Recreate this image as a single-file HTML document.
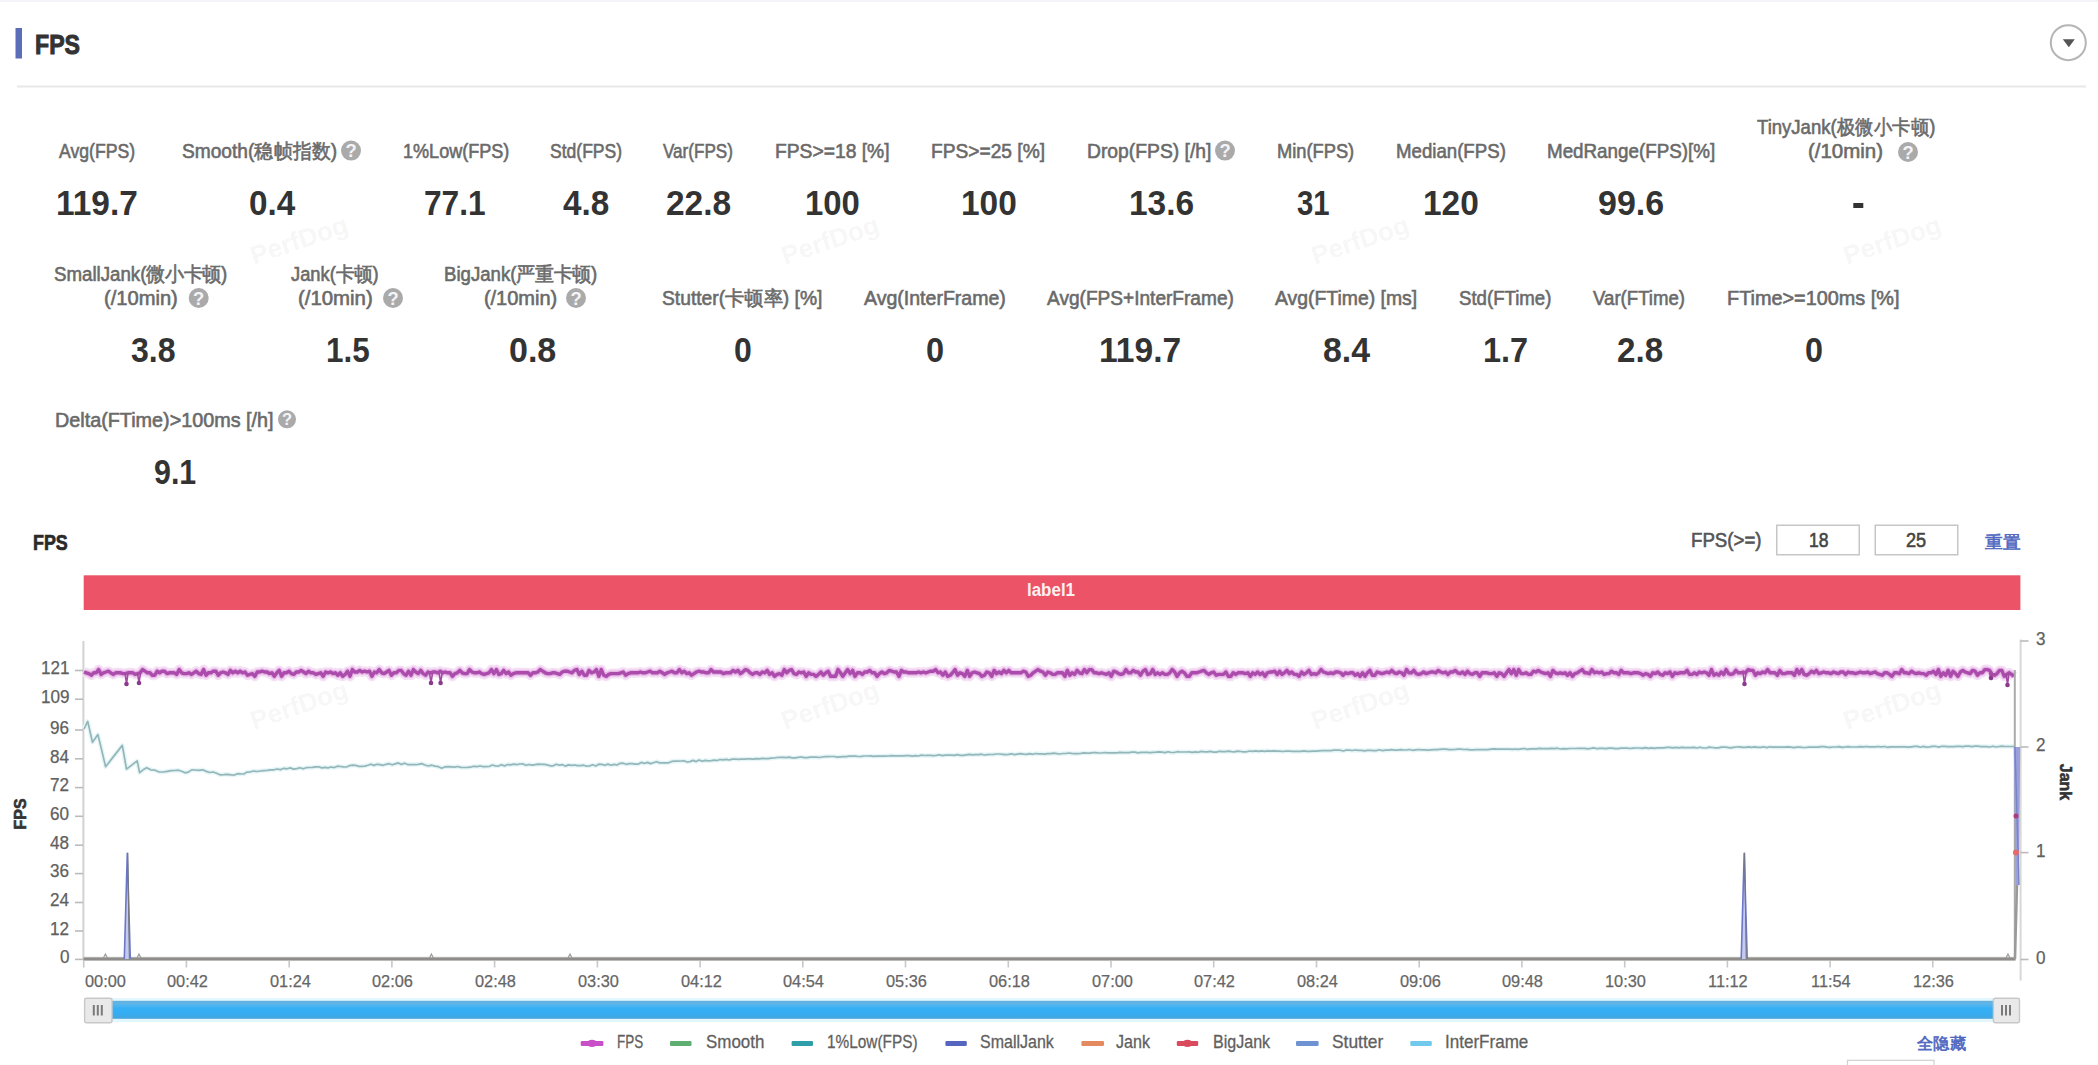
<!DOCTYPE html>
<html><head><meta charset="utf-8"><title>FPS</title>
<style>
html,body{margin:0;padding:0;background:#fff;}
body{width:2098px;height:1065px;overflow:hidden;position:relative;font-family:"Liberation Sans",sans-serif;}
svg{position:absolute;left:0;top:0;}
#root{position:absolute;left:0;top:0;width:2098px;height:1065px;overflow:hidden;}
.t{position:absolute;white-space:nowrap;line-height:1;transform-origin:0 0;-webkit-text-stroke:0.6px currentColor;}
.b{font-weight:bold;-webkit-text-stroke:0;}
.t i{display:inline-block;width:1em;font-style:normal;text-align:center;}
.wm{position:absolute;width:120px;height:28px;font-size:26px;font-weight:bold;color:rgba(0,0,0,0.055);transform:rotate(-19deg);line-height:28px;text-align:center;}
</style></head><body>
<div id="root">
<svg width="2098" height="1065" viewBox="0 0 2098 1065">
<rect x="0" y="0" width="2098" height="2" fill="#f4f4f8"/>
<rect x="15.5" y="28" width="6.5" height="30.5" fill="#5b6cb8"/>
<rect x="17" y="85.5" width="2069" height="2" fill="#e8e8e8"/>
<circle cx="2068.3" cy="42.7" r="17.5" fill="none" stroke="#b5b5b5" stroke-width="2"/>
<path d="M2062.8 39.3 L2074.8 39.3 L2068.8 47.3 Z" fill="#555"/>
<circle cx="351.0" cy="150.6" r="10.0" fill="#aaaaaa"/>
<text x="351.0" y="157.1" font-size="18.4" font-weight="bold" fill="#f4f4f8" text-anchor="middle" font-family="Liberation Sans, sans-serif">?</text>
<circle cx="1225.0" cy="150.6" r="10.0" fill="#aaaaaa"/>
<text x="1225.0" y="157.1" font-size="18.4" font-weight="bold" fill="#f4f4f8" text-anchor="middle" font-family="Liberation Sans, sans-serif">?</text>
<circle cx="1908.0" cy="152.0" r="10.0" fill="#aaaaaa"/>
<text x="1908.0" y="158.5" font-size="18.4" font-weight="bold" fill="#f4f4f8" text-anchor="middle" font-family="Liberation Sans, sans-serif">?</text>
<rect x="1853.3" y="203" width="10" height="5" fill="#333"/>
<circle cx="198.7" cy="298.0" r="10.0" fill="#aaaaaa"/>
<text x="198.7" y="304.5" font-size="18.4" font-weight="bold" fill="#f4f4f8" text-anchor="middle" font-family="Liberation Sans, sans-serif">?</text>
<circle cx="393.0" cy="298.0" r="10.0" fill="#aaaaaa"/>
<text x="393.0" y="304.5" font-size="18.4" font-weight="bold" fill="#f4f4f8" text-anchor="middle" font-family="Liberation Sans, sans-serif">?</text>
<circle cx="576.0" cy="298.0" r="10.0" fill="#aaaaaa"/>
<text x="576.0" y="304.5" font-size="18.4" font-weight="bold" fill="#f4f4f8" text-anchor="middle" font-family="Liberation Sans, sans-serif">?</text>
<circle cx="287.0" cy="419.3" r="9.0" fill="#aaaaaa"/>
<text x="287.0" y="425.2" font-size="16.6" font-weight="bold" fill="#f4f4f8" text-anchor="middle" font-family="Liberation Sans, sans-serif">?</text>
<rect x="1776.75" y="525.25" width="82.5" height="29.5" fill="#fff" stroke="#c6c6c6" stroke-width="1.5"/>
<rect x="1875.25" y="525.25" width="82.5" height="29.5" fill="#fff" stroke="#c6c6c6" stroke-width="1.5"/>
<rect x="83.7" y="575.3" width="1936.7" height="34.7" fill="#ec5366"/>
<rect x="82.4" y="641" width="2" height="319" fill="#d2d2d2"/>
<rect x="2019.6" y="639.5" width="2" height="341" fill="#d8d8d8"/>
<rect x="75" y="669.7" width="8" height="1.6" fill="#bbb"/>
<rect x="75" y="698.4" width="8" height="1.6" fill="#bbb"/>
<rect x="75" y="729.2" width="8" height="1.6" fill="#bbb"/>
<rect x="75" y="758.0" width="8" height="1.6" fill="#bbb"/>
<rect x="75" y="786.8" width="8" height="1.6" fill="#bbb"/>
<rect x="75" y="815.5" width="8" height="1.6" fill="#bbb"/>
<rect x="75" y="844.4" width="8" height="1.6" fill="#bbb"/>
<rect x="75" y="872.8" width="8" height="1.6" fill="#bbb"/>
<rect x="75" y="901.7" width="8" height="1.6" fill="#bbb"/>
<rect x="75" y="930.2" width="8" height="1.6" fill="#bbb"/>
<rect x="75" y="958.6" width="8" height="1.6" fill="#bbb"/>
<rect x="2020.5" y="640.2" width="8" height="1.6" fill="#bbb"/>
<rect x="2020.5" y="746.2" width="8" height="1.6" fill="#bbb"/>
<rect x="2020.5" y="851.8" width="8" height="1.6" fill="#bbb"/>
<rect x="2020.5" y="958.7" width="8" height="1.6" fill="#bbb"/>
<rect x="82.9" y="960" width="1.6" height="7.5" fill="#c8c8c8"/>
<rect x="185.6" y="960" width="1.6" height="7.5" fill="#c8c8c8"/>
<rect x="288.4" y="960" width="1.6" height="7.5" fill="#c8c8c8"/>
<rect x="391.1" y="960" width="1.6" height="7.5" fill="#c8c8c8"/>
<rect x="493.8" y="960" width="1.6" height="7.5" fill="#c8c8c8"/>
<rect x="596.6" y="960" width="1.6" height="7.5" fill="#c8c8c8"/>
<rect x="699.3" y="960" width="1.6" height="7.5" fill="#c8c8c8"/>
<rect x="802.0" y="960" width="1.6" height="7.5" fill="#c8c8c8"/>
<rect x="904.7" y="960" width="1.6" height="7.5" fill="#c8c8c8"/>
<rect x="1007.5" y="960" width="1.6" height="7.5" fill="#c8c8c8"/>
<rect x="1110.2" y="960" width="1.6" height="7.5" fill="#c8c8c8"/>
<rect x="1212.9" y="960" width="1.6" height="7.5" fill="#c8c8c8"/>
<rect x="1315.7" y="960" width="1.6" height="7.5" fill="#c8c8c8"/>
<rect x="1418.4" y="960" width="1.6" height="7.5" fill="#c8c8c8"/>
<rect x="1521.1" y="960" width="1.6" height="7.5" fill="#c8c8c8"/>
<rect x="1623.9" y="960" width="1.6" height="7.5" fill="#c8c8c8"/>
<rect x="1726.6" y="960" width="1.6" height="7.5" fill="#c8c8c8"/>
<rect x="1829.3" y="960" width="1.6" height="7.5" fill="#c8c8c8"/>
<rect x="1932.0" y="960" width="1.6" height="7.5" fill="#c8c8c8"/>
<path d="M84.0 672.0 L86.4 672.8 L88.9 673.6 L91.3 675.2 L93.8 672.8 L96.2 672.8 L98.6 669.6 L101.1 674.4 L103.5 672.8 L106.0 672.0 L108.4 671.2 L110.8 672.8 L113.3 674.4 L115.7 672.8 L118.2 672.8 L120.6 672.8 L123.0 673.6 L125.5 673.6 L127.9 672.8 L130.4 672.8 L132.8 672.8 L135.2 674.4 L137.7 673.6 L140.1 672.8 L142.6 669.6 L145.0 671.2 L147.4 672.8 L149.9 672.8 L152.3 675.2 L154.8 675.2 L157.2 671.2 L159.6 672.8 L162.1 671.2 L164.5 671.2 L167.0 673.6 L169.4 672.8 L171.8 672.8 L174.3 672.8 L176.7 674.4 L179.2 669.6 L181.6 672.8 L184.0 673.6 L186.5 673.6 L188.9 672.8 L191.4 674.4 L193.8 672.8 L196.2 671.2 L198.7 673.6 L201.1 674.4 L203.6 669.6 L206.0 675.2 L208.4 672.8 L210.9 672.8 L213.3 671.2 L215.8 671.2 L218.2 675.2 L220.6 672.8 L223.1 672.0 L225.5 672.8 L228.0 674.4 L230.4 670.4 L232.8 672.8 L235.3 671.2 L237.7 672.8 L240.2 671.2 L242.6 672.8 L245.0 672.0 L247.5 675.2 L249.9 674.4 L252.4 673.6 L254.8 676.3 L257.2 672.0 L259.7 672.0 L262.1 671.2 L264.6 672.0 L267.0 672.0 L269.4 673.6 L271.9 672.8 L274.3 676.3 L276.8 672.8 L279.2 670.4 L281.6 676.3 L284.1 672.8 L286.5 672.8 L289.0 671.2 L291.4 673.6 L293.8 674.4 L296.3 672.0 L298.7 672.0 L301.2 670.4 L303.6 672.0 L306.0 673.6 L308.5 671.2 L310.9 672.8 L313.4 672.8 L315.8 674.4 L318.2 673.6 L320.7 672.8 L323.1 676.3 L325.6 672.0 L328.0 672.8 L330.4 672.0 L332.9 673.6 L335.3 672.8 L337.8 675.2 L340.2 672.8 L342.6 676.3 L345.1 674.4 L347.5 671.2 L350.0 676.3 L352.4 669.6 L354.8 672.0 L357.3 672.0 L359.7 670.4 L362.2 672.0 L364.6 671.2 L367.0 672.0 L369.5 671.2 L371.9 676.3 L374.4 672.0 L376.8 672.8 L379.2 669.6 L381.7 672.8 L384.1 673.6 L386.6 672.0 L389.0 670.4 L391.4 675.2 L393.9 672.8 L396.3 672.8 L398.8 670.4 L401.2 670.4 L403.6 673.6 L406.1 675.2 L408.5 671.2 L411.0 675.2 L413.4 669.6 L415.8 672.0 L418.3 673.6 L420.7 670.4 L423.2 673.6 L425.6 675.2 L428.0 672.0 L430.5 672.8 L432.9 672.0 L435.4 672.0 L437.8 672.8 L440.2 671.2 L442.7 672.8 L445.1 672.0 L447.6 672.8 L450.0 672.8 L452.4 676.3 L454.9 673.6 L457.3 672.8 L459.8 670.4 L462.2 672.8 L464.6 673.6 L467.1 673.6 L469.5 669.6 L472.0 672.0 L474.4 672.8 L476.8 672.8 L479.3 672.0 L481.7 673.6 L484.2 674.4 L486.6 673.6 L489.0 672.8 L491.5 669.6 L493.9 673.6 L496.4 669.6 L498.8 674.4 L501.2 673.6 L503.7 670.4 L506.1 673.6 L508.6 672.0 L511.0 675.2 L513.4 673.6 L515.9 672.8 L518.3 672.8 L520.8 672.8 L523.2 672.8 L525.6 672.8 L528.1 672.8 L530.5 675.2 L533.0 672.8 L535.4 672.8 L537.8 672.0 L540.3 669.6 L542.7 671.2 L545.2 672.8 L547.6 673.6 L550.0 673.6 L552.5 672.8 L554.9 672.8 L557.4 673.6 L559.8 674.4 L562.2 672.0 L564.7 671.2 L567.1 671.2 L569.6 672.0 L572.0 672.8 L574.4 670.4 L576.9 669.6 L579.3 674.4 L581.8 671.2 L584.2 675.2 L586.6 675.2 L589.1 670.4 L591.5 672.8 L594.0 672.0 L596.4 669.6 L598.8 676.3 L601.3 669.6 L603.7 675.2 L606.2 676.3 L608.6 674.4 L611.0 673.6 L613.5 673.6 L615.9 673.6 L618.4 673.6 L620.8 672.8 L623.2 672.0 L625.7 675.2 L628.1 673.6 L630.6 672.8 L633.0 672.8 L635.4 672.8 L637.9 672.8 L640.3 672.0 L642.8 672.8 L645.2 672.8 L647.6 672.0 L650.1 671.2 L652.5 672.8 L655.0 672.8 L657.4 672.8 L659.8 671.2 L662.3 672.8 L664.7 674.4 L667.2 672.8 L669.6 672.0 L672.0 671.2 L674.5 672.8 L676.9 672.8 L679.4 669.6 L681.8 672.8 L684.2 671.2 L686.7 673.6 L689.1 672.8 L691.6 675.2 L694.0 673.6 L696.4 672.0 L698.9 671.2 L701.3 672.0 L703.8 672.0 L706.2 672.8 L708.6 672.8 L711.1 669.6 L713.5 672.0 L716.0 672.0 L718.4 672.0 L720.8 672.0 L723.3 673.6 L725.7 672.8 L728.2 672.8 L730.6 672.8 L733.0 670.4 L735.5 672.0 L737.9 670.4 L740.4 673.6 L742.8 672.0 L745.2 669.6 L747.7 670.4 L750.1 672.8 L752.6 674.4 L755.0 672.8 L757.4 672.8 L759.9 674.4 L762.3 672.0 L764.8 672.8 L767.2 670.4 L769.6 674.4 L772.1 672.8 L774.5 676.3 L777.0 674.4 L779.4 673.6 L781.8 675.2 L784.3 669.6 L786.7 672.8 L789.2 670.4 L791.6 669.6 L794.0 673.6 L796.5 674.4 L798.9 672.0 L801.4 672.8 L803.8 672.0 L806.2 676.3 L808.7 672.8 L811.1 674.4 L813.6 674.4 L816.0 676.3 L818.4 674.4 L820.9 672.0 L823.3 675.2 L825.8 672.8 L828.2 671.2 L830.6 676.3 L833.1 676.3 L835.5 676.3 L838.0 669.6 L840.4 672.8 L842.8 676.3 L845.3 672.8 L847.7 669.6 L850.2 673.6 L852.6 670.4 L855.0 676.3 L857.5 672.8 L859.9 672.8 L862.4 674.4 L864.8 672.0 L867.2 672.0 L869.7 670.4 L872.1 672.8 L874.6 672.8 L877.0 676.3 L879.4 673.6 L881.9 672.0 L884.3 673.6 L886.8 672.8 L889.2 670.4 L891.6 671.2 L894.1 672.0 L896.5 672.0 L899.0 676.3 L901.4 670.4 L903.8 672.0 L906.3 672.0 L908.7 672.8 L911.2 672.8 L913.6 672.8 L916.0 672.8 L918.5 672.0 L920.9 672.8 L923.4 672.0 L925.8 672.8 L928.2 672.0 L930.7 671.2 L933.1 671.2 L935.6 669.6 L938.0 672.8 L940.4 672.0 L942.9 675.2 L945.3 672.0 L947.8 676.3 L950.2 675.2 L952.6 672.8 L955.1 669.6 L957.5 675.2 L960.0 672.8 L962.4 673.6 L964.8 676.3 L967.3 670.4 L969.7 676.3 L972.2 672.8 L974.6 672.0 L977.0 672.8 L979.5 673.6 L981.9 676.3 L984.4 675.2 L986.8 672.0 L989.2 672.8 L991.7 676.3 L994.1 670.4 L996.6 673.6 L999.0 672.0 L1001.4 673.6 L1003.9 670.4 L1006.3 672.8 L1008.8 670.4 L1011.2 672.8 L1013.6 672.8 L1016.1 672.8 L1018.5 672.8 L1021.0 672.8 L1023.4 671.2 L1025.8 672.0 L1028.3 676.3 L1030.7 675.2 L1033.2 672.8 L1035.6 671.2 L1038.0 669.6 L1040.5 671.2 L1042.9 672.0 L1045.4 675.2 L1047.8 672.0 L1050.2 672.8 L1052.7 674.4 L1055.1 674.4 L1057.6 672.8 L1060.0 672.8 L1062.4 672.8 L1064.9 676.3 L1067.3 670.4 L1069.8 675.2 L1072.2 672.8 L1074.6 674.4 L1077.1 670.4 L1079.5 672.8 L1082.0 673.6 L1084.4 669.6 L1086.8 672.8 L1089.3 669.6 L1091.7 669.6 L1094.2 672.8 L1096.6 672.8 L1099.0 673.6 L1101.5 672.8 L1103.9 673.6 L1106.4 674.4 L1108.8 672.8 L1111.2 676.3 L1113.7 671.2 L1116.1 672.0 L1118.6 673.6 L1121.0 674.4 L1123.4 673.6 L1125.9 669.6 L1128.3 672.8 L1130.8 672.8 L1133.2 670.4 L1135.6 672.0 L1138.1 672.0 L1140.5 675.2 L1143.0 671.2 L1145.4 669.6 L1147.8 674.4 L1150.3 673.6 L1152.7 669.6 L1155.2 674.4 L1157.6 672.8 L1160.0 674.4 L1162.5 672.8 L1164.9 674.4 L1167.4 674.4 L1169.8 672.8 L1172.2 669.6 L1174.7 672.0 L1177.1 676.3 L1179.6 672.8 L1182.0 671.2 L1184.4 672.8 L1186.9 676.3 L1189.3 676.3 L1191.8 672.8 L1194.2 672.8 L1196.6 672.8 L1199.1 672.0 L1201.5 671.2 L1204.0 670.4 L1206.4 672.8 L1208.8 674.4 L1211.3 672.8 L1213.7 672.0 L1216.2 675.2 L1218.6 674.4 L1221.0 674.4 L1223.5 674.4 L1225.9 672.0 L1228.4 676.3 L1230.8 676.3 L1233.2 672.8 L1235.7 674.4 L1238.1 672.8 L1240.6 672.8 L1243.0 672.8 L1245.4 673.6 L1247.9 672.8 L1250.3 676.3 L1252.8 672.8 L1255.2 674.4 L1257.6 672.0 L1260.1 674.4 L1262.5 672.8 L1265.0 676.3 L1267.4 672.8 L1269.8 672.0 L1272.3 672.0 L1274.7 671.2 L1277.2 674.4 L1279.6 671.2 L1282.0 674.4 L1284.5 672.8 L1286.9 670.4 L1289.4 673.6 L1291.8 672.0 L1294.2 674.4 L1296.7 674.4 L1299.1 676.3 L1301.6 672.0 L1304.0 674.4 L1306.4 672.8 L1308.9 670.4 L1311.3 674.4 L1313.8 673.6 L1316.2 674.4 L1318.6 672.8 L1321.1 669.6 L1323.5 672.0 L1326.0 672.8 L1328.4 673.6 L1330.8 672.8 L1333.3 673.6 L1335.7 672.0 L1338.2 672.0 L1340.6 672.8 L1343.0 675.2 L1345.5 672.8 L1347.9 673.6 L1350.4 672.8 L1352.8 672.8 L1355.2 675.2 L1357.7 673.6 L1360.1 676.3 L1362.6 672.8 L1365.0 676.3 L1367.4 672.8 L1369.9 670.4 L1372.3 675.2 L1374.8 675.2 L1377.2 672.0 L1379.6 672.8 L1382.1 673.6 L1384.5 672.8 L1387.0 672.0 L1389.4 672.8 L1391.8 670.4 L1394.3 672.8 L1396.7 673.6 L1399.2 672.0 L1401.6 672.8 L1404.0 675.2 L1406.5 669.6 L1408.9 672.8 L1411.4 672.8 L1413.8 670.4 L1416.2 673.6 L1418.7 674.4 L1421.1 673.6 L1423.6 672.0 L1426.0 673.6 L1428.4 672.8 L1430.9 672.0 L1433.3 672.0 L1435.8 672.8 L1438.2 670.4 L1440.6 672.0 L1443.1 672.8 L1445.5 672.0 L1448.0 674.4 L1450.4 672.0 L1452.8 672.0 L1455.3 670.4 L1457.7 672.8 L1460.2 673.6 L1462.6 672.0 L1465.0 674.4 L1467.5 671.2 L1469.9 673.6 L1472.4 674.4 L1474.8 672.8 L1477.2 672.8 L1479.7 676.3 L1482.1 672.8 L1484.6 672.8 L1487.0 672.8 L1489.4 673.6 L1491.9 673.6 L1494.3 672.8 L1496.8 676.3 L1499.2 672.8 L1501.6 673.6 L1504.1 676.3 L1506.5 672.8 L1509.0 669.6 L1511.4 673.6 L1513.8 669.6 L1516.3 675.2 L1518.7 669.6 L1521.2 673.6 L1523.6 673.6 L1526.0 672.8 L1528.5 674.4 L1530.9 674.4 L1533.4 671.2 L1535.8 672.0 L1538.2 670.4 L1540.7 672.0 L1543.1 672.8 L1545.6 673.6 L1548.0 672.8 L1550.4 676.3 L1552.9 670.4 L1555.3 672.8 L1557.8 673.6 L1560.2 672.8 L1562.6 673.6 L1565.1 672.8 L1567.5 675.2 L1570.0 672.8 L1572.4 676.3 L1574.8 673.6 L1577.3 672.8 L1579.7 671.2 L1582.2 669.6 L1584.6 672.8 L1587.0 672.8 L1589.5 673.6 L1591.9 669.6 L1594.4 672.8 L1596.8 672.0 L1599.2 672.8 L1601.7 672.0 L1604.1 674.4 L1606.6 673.6 L1609.0 673.6 L1611.4 671.2 L1613.9 672.8 L1616.3 672.8 L1618.8 674.4 L1621.2 670.4 L1623.6 672.8 L1626.1 672.8 L1628.5 672.8 L1631.0 673.6 L1633.4 672.8 L1635.8 672.8 L1638.3 672.8 L1640.7 673.6 L1643.2 675.2 L1645.6 673.6 L1648.0 674.4 L1650.5 676.3 L1652.9 672.8 L1655.4 673.6 L1657.8 672.0 L1660.2 674.4 L1662.7 675.2 L1665.1 672.8 L1667.6 673.6 L1670.0 672.0 L1672.4 676.3 L1674.9 672.8 L1677.3 673.6 L1679.8 672.8 L1682.2 672.8 L1684.6 672.8 L1687.1 670.4 L1689.5 674.4 L1692.0 674.4 L1694.4 672.8 L1696.8 674.4 L1699.3 672.0 L1701.7 672.8 L1704.2 672.0 L1706.6 672.8 L1709.0 675.2 L1711.5 669.6 L1713.9 675.2 L1716.4 673.6 L1718.8 675.2 L1721.2 672.0 L1723.7 674.4 L1726.1 669.6 L1728.6 673.6 L1731.0 674.4 L1733.4 673.6 L1735.9 670.4 L1738.3 672.8 L1740.8 672.8 L1743.2 672.0 L1745.6 672.8 L1748.1 669.6 L1750.5 670.4 L1753.0 670.4 L1755.4 675.2 L1757.8 672.8 L1760.3 673.6 L1762.7 672.0 L1765.2 672.8 L1767.6 669.6 L1770.0 672.8 L1772.5 672.8 L1774.9 672.8 L1777.4 675.2 L1779.8 670.4 L1782.2 673.6 L1784.7 673.6 L1787.1 672.8 L1789.6 672.8 L1792.0 672.8 L1794.4 675.2 L1796.9 669.6 L1799.3 673.6 L1801.8 669.6 L1804.2 674.4 L1806.6 675.2 L1809.1 673.6 L1811.5 671.2 L1814.0 672.8 L1816.4 670.4 L1818.8 673.6 L1821.3 672.8 L1823.7 672.0 L1826.2 672.8 L1828.6 672.8 L1831.0 673.6 L1833.5 672.0 L1835.9 672.8 L1838.4 673.6 L1840.8 672.0 L1843.2 672.0 L1845.7 674.4 L1848.1 672.0 L1850.6 672.8 L1853.0 672.8 L1855.4 673.6 L1857.9 672.8 L1860.3 672.0 L1862.8 672.8 L1865.2 672.8 L1867.6 672.0 L1870.1 673.6 L1872.5 672.8 L1875.0 672.0 L1877.4 673.6 L1879.8 674.4 L1882.3 675.2 L1884.7 672.8 L1887.2 672.8 L1889.6 674.4 L1892.0 676.3 L1894.5 672.8 L1896.9 672.8 L1899.4 673.6 L1901.8 669.6 L1904.2 672.8 L1906.7 672.8 L1909.1 673.6 L1911.6 671.2 L1914.0 672.8 L1916.4 673.6 L1918.9 672.8 L1921.3 673.6 L1923.8 673.6 L1926.2 675.2 L1928.6 672.8 L1931.1 672.8 L1933.5 671.2 L1936.0 674.4 L1938.4 669.6 L1940.8 676.3 L1943.3 672.8 L1945.7 675.2 L1948.2 670.4 L1950.6 676.3 L1953.0 671.2 L1955.5 673.6 L1957.9 676.3 L1960.4 672.0 L1962.8 670.4 L1965.2 672.0 L1967.7 672.8 L1970.1 673.6 L1972.6 670.4 L1975.0 671.2 L1977.4 675.2 L1979.9 672.8 L1982.3 672.8 L1984.8 669.6 L1987.2 669.6 L1989.6 670.4 L1992.1 674.4 L1994.5 675.2 L1997.0 673.6 L1999.4 670.4 L2001.8 670.4 L2004.3 676.3 L2006.7 674.4 L2009.2 672.8 L2011.6 674.4 L2014.0 676.3" fill="none" stroke="#f6e0f6" stroke-width="10" stroke-linejoin="round"/>
<path d="M84.0 672.0 L86.4 672.8 L88.9 673.6 L91.3 675.2 L93.8 672.8 L96.2 672.8 L98.6 669.6 L101.1 674.4 L103.5 672.8 L106.0 672.0 L108.4 671.2 L110.8 672.8 L113.3 674.4 L115.7 672.8 L118.2 672.8 L120.6 672.8 L123.0 673.6 L125.5 673.6 L127.9 672.8 L130.4 672.8 L132.8 672.8 L135.2 674.4 L137.7 673.6 L140.1 672.8 L142.6 669.6 L145.0 671.2 L147.4 672.8 L149.9 672.8 L152.3 675.2 L154.8 675.2 L157.2 671.2 L159.6 672.8 L162.1 671.2 L164.5 671.2 L167.0 673.6 L169.4 672.8 L171.8 672.8 L174.3 672.8 L176.7 674.4 L179.2 669.6 L181.6 672.8 L184.0 673.6 L186.5 673.6 L188.9 672.8 L191.4 674.4 L193.8 672.8 L196.2 671.2 L198.7 673.6 L201.1 674.4 L203.6 669.6 L206.0 675.2 L208.4 672.8 L210.9 672.8 L213.3 671.2 L215.8 671.2 L218.2 675.2 L220.6 672.8 L223.1 672.0 L225.5 672.8 L228.0 674.4 L230.4 670.4 L232.8 672.8 L235.3 671.2 L237.7 672.8 L240.2 671.2 L242.6 672.8 L245.0 672.0 L247.5 675.2 L249.9 674.4 L252.4 673.6 L254.8 676.3 L257.2 672.0 L259.7 672.0 L262.1 671.2 L264.6 672.0 L267.0 672.0 L269.4 673.6 L271.9 672.8 L274.3 676.3 L276.8 672.8 L279.2 670.4 L281.6 676.3 L284.1 672.8 L286.5 672.8 L289.0 671.2 L291.4 673.6 L293.8 674.4 L296.3 672.0 L298.7 672.0 L301.2 670.4 L303.6 672.0 L306.0 673.6 L308.5 671.2 L310.9 672.8 L313.4 672.8 L315.8 674.4 L318.2 673.6 L320.7 672.8 L323.1 676.3 L325.6 672.0 L328.0 672.8 L330.4 672.0 L332.9 673.6 L335.3 672.8 L337.8 675.2 L340.2 672.8 L342.6 676.3 L345.1 674.4 L347.5 671.2 L350.0 676.3 L352.4 669.6 L354.8 672.0 L357.3 672.0 L359.7 670.4 L362.2 672.0 L364.6 671.2 L367.0 672.0 L369.5 671.2 L371.9 676.3 L374.4 672.0 L376.8 672.8 L379.2 669.6 L381.7 672.8 L384.1 673.6 L386.6 672.0 L389.0 670.4 L391.4 675.2 L393.9 672.8 L396.3 672.8 L398.8 670.4 L401.2 670.4 L403.6 673.6 L406.1 675.2 L408.5 671.2 L411.0 675.2 L413.4 669.6 L415.8 672.0 L418.3 673.6 L420.7 670.4 L423.2 673.6 L425.6 675.2 L428.0 672.0 L430.5 672.8 L432.9 672.0 L435.4 672.0 L437.8 672.8 L440.2 671.2 L442.7 672.8 L445.1 672.0 L447.6 672.8 L450.0 672.8 L452.4 676.3 L454.9 673.6 L457.3 672.8 L459.8 670.4 L462.2 672.8 L464.6 673.6 L467.1 673.6 L469.5 669.6 L472.0 672.0 L474.4 672.8 L476.8 672.8 L479.3 672.0 L481.7 673.6 L484.2 674.4 L486.6 673.6 L489.0 672.8 L491.5 669.6 L493.9 673.6 L496.4 669.6 L498.8 674.4 L501.2 673.6 L503.7 670.4 L506.1 673.6 L508.6 672.0 L511.0 675.2 L513.4 673.6 L515.9 672.8 L518.3 672.8 L520.8 672.8 L523.2 672.8 L525.6 672.8 L528.1 672.8 L530.5 675.2 L533.0 672.8 L535.4 672.8 L537.8 672.0 L540.3 669.6 L542.7 671.2 L545.2 672.8 L547.6 673.6 L550.0 673.6 L552.5 672.8 L554.9 672.8 L557.4 673.6 L559.8 674.4 L562.2 672.0 L564.7 671.2 L567.1 671.2 L569.6 672.0 L572.0 672.8 L574.4 670.4 L576.9 669.6 L579.3 674.4 L581.8 671.2 L584.2 675.2 L586.6 675.2 L589.1 670.4 L591.5 672.8 L594.0 672.0 L596.4 669.6 L598.8 676.3 L601.3 669.6 L603.7 675.2 L606.2 676.3 L608.6 674.4 L611.0 673.6 L613.5 673.6 L615.9 673.6 L618.4 673.6 L620.8 672.8 L623.2 672.0 L625.7 675.2 L628.1 673.6 L630.6 672.8 L633.0 672.8 L635.4 672.8 L637.9 672.8 L640.3 672.0 L642.8 672.8 L645.2 672.8 L647.6 672.0 L650.1 671.2 L652.5 672.8 L655.0 672.8 L657.4 672.8 L659.8 671.2 L662.3 672.8 L664.7 674.4 L667.2 672.8 L669.6 672.0 L672.0 671.2 L674.5 672.8 L676.9 672.8 L679.4 669.6 L681.8 672.8 L684.2 671.2 L686.7 673.6 L689.1 672.8 L691.6 675.2 L694.0 673.6 L696.4 672.0 L698.9 671.2 L701.3 672.0 L703.8 672.0 L706.2 672.8 L708.6 672.8 L711.1 669.6 L713.5 672.0 L716.0 672.0 L718.4 672.0 L720.8 672.0 L723.3 673.6 L725.7 672.8 L728.2 672.8 L730.6 672.8 L733.0 670.4 L735.5 672.0 L737.9 670.4 L740.4 673.6 L742.8 672.0 L745.2 669.6 L747.7 670.4 L750.1 672.8 L752.6 674.4 L755.0 672.8 L757.4 672.8 L759.9 674.4 L762.3 672.0 L764.8 672.8 L767.2 670.4 L769.6 674.4 L772.1 672.8 L774.5 676.3 L777.0 674.4 L779.4 673.6 L781.8 675.2 L784.3 669.6 L786.7 672.8 L789.2 670.4 L791.6 669.6 L794.0 673.6 L796.5 674.4 L798.9 672.0 L801.4 672.8 L803.8 672.0 L806.2 676.3 L808.7 672.8 L811.1 674.4 L813.6 674.4 L816.0 676.3 L818.4 674.4 L820.9 672.0 L823.3 675.2 L825.8 672.8 L828.2 671.2 L830.6 676.3 L833.1 676.3 L835.5 676.3 L838.0 669.6 L840.4 672.8 L842.8 676.3 L845.3 672.8 L847.7 669.6 L850.2 673.6 L852.6 670.4 L855.0 676.3 L857.5 672.8 L859.9 672.8 L862.4 674.4 L864.8 672.0 L867.2 672.0 L869.7 670.4 L872.1 672.8 L874.6 672.8 L877.0 676.3 L879.4 673.6 L881.9 672.0 L884.3 673.6 L886.8 672.8 L889.2 670.4 L891.6 671.2 L894.1 672.0 L896.5 672.0 L899.0 676.3 L901.4 670.4 L903.8 672.0 L906.3 672.0 L908.7 672.8 L911.2 672.8 L913.6 672.8 L916.0 672.8 L918.5 672.0 L920.9 672.8 L923.4 672.0 L925.8 672.8 L928.2 672.0 L930.7 671.2 L933.1 671.2 L935.6 669.6 L938.0 672.8 L940.4 672.0 L942.9 675.2 L945.3 672.0 L947.8 676.3 L950.2 675.2 L952.6 672.8 L955.1 669.6 L957.5 675.2 L960.0 672.8 L962.4 673.6 L964.8 676.3 L967.3 670.4 L969.7 676.3 L972.2 672.8 L974.6 672.0 L977.0 672.8 L979.5 673.6 L981.9 676.3 L984.4 675.2 L986.8 672.0 L989.2 672.8 L991.7 676.3 L994.1 670.4 L996.6 673.6 L999.0 672.0 L1001.4 673.6 L1003.9 670.4 L1006.3 672.8 L1008.8 670.4 L1011.2 672.8 L1013.6 672.8 L1016.1 672.8 L1018.5 672.8 L1021.0 672.8 L1023.4 671.2 L1025.8 672.0 L1028.3 676.3 L1030.7 675.2 L1033.2 672.8 L1035.6 671.2 L1038.0 669.6 L1040.5 671.2 L1042.9 672.0 L1045.4 675.2 L1047.8 672.0 L1050.2 672.8 L1052.7 674.4 L1055.1 674.4 L1057.6 672.8 L1060.0 672.8 L1062.4 672.8 L1064.9 676.3 L1067.3 670.4 L1069.8 675.2 L1072.2 672.8 L1074.6 674.4 L1077.1 670.4 L1079.5 672.8 L1082.0 673.6 L1084.4 669.6 L1086.8 672.8 L1089.3 669.6 L1091.7 669.6 L1094.2 672.8 L1096.6 672.8 L1099.0 673.6 L1101.5 672.8 L1103.9 673.6 L1106.4 674.4 L1108.8 672.8 L1111.2 676.3 L1113.7 671.2 L1116.1 672.0 L1118.6 673.6 L1121.0 674.4 L1123.4 673.6 L1125.9 669.6 L1128.3 672.8 L1130.8 672.8 L1133.2 670.4 L1135.6 672.0 L1138.1 672.0 L1140.5 675.2 L1143.0 671.2 L1145.4 669.6 L1147.8 674.4 L1150.3 673.6 L1152.7 669.6 L1155.2 674.4 L1157.6 672.8 L1160.0 674.4 L1162.5 672.8 L1164.9 674.4 L1167.4 674.4 L1169.8 672.8 L1172.2 669.6 L1174.7 672.0 L1177.1 676.3 L1179.6 672.8 L1182.0 671.2 L1184.4 672.8 L1186.9 676.3 L1189.3 676.3 L1191.8 672.8 L1194.2 672.8 L1196.6 672.8 L1199.1 672.0 L1201.5 671.2 L1204.0 670.4 L1206.4 672.8 L1208.8 674.4 L1211.3 672.8 L1213.7 672.0 L1216.2 675.2 L1218.6 674.4 L1221.0 674.4 L1223.5 674.4 L1225.9 672.0 L1228.4 676.3 L1230.8 676.3 L1233.2 672.8 L1235.7 674.4 L1238.1 672.8 L1240.6 672.8 L1243.0 672.8 L1245.4 673.6 L1247.9 672.8 L1250.3 676.3 L1252.8 672.8 L1255.2 674.4 L1257.6 672.0 L1260.1 674.4 L1262.5 672.8 L1265.0 676.3 L1267.4 672.8 L1269.8 672.0 L1272.3 672.0 L1274.7 671.2 L1277.2 674.4 L1279.6 671.2 L1282.0 674.4 L1284.5 672.8 L1286.9 670.4 L1289.4 673.6 L1291.8 672.0 L1294.2 674.4 L1296.7 674.4 L1299.1 676.3 L1301.6 672.0 L1304.0 674.4 L1306.4 672.8 L1308.9 670.4 L1311.3 674.4 L1313.8 673.6 L1316.2 674.4 L1318.6 672.8 L1321.1 669.6 L1323.5 672.0 L1326.0 672.8 L1328.4 673.6 L1330.8 672.8 L1333.3 673.6 L1335.7 672.0 L1338.2 672.0 L1340.6 672.8 L1343.0 675.2 L1345.5 672.8 L1347.9 673.6 L1350.4 672.8 L1352.8 672.8 L1355.2 675.2 L1357.7 673.6 L1360.1 676.3 L1362.6 672.8 L1365.0 676.3 L1367.4 672.8 L1369.9 670.4 L1372.3 675.2 L1374.8 675.2 L1377.2 672.0 L1379.6 672.8 L1382.1 673.6 L1384.5 672.8 L1387.0 672.0 L1389.4 672.8 L1391.8 670.4 L1394.3 672.8 L1396.7 673.6 L1399.2 672.0 L1401.6 672.8 L1404.0 675.2 L1406.5 669.6 L1408.9 672.8 L1411.4 672.8 L1413.8 670.4 L1416.2 673.6 L1418.7 674.4 L1421.1 673.6 L1423.6 672.0 L1426.0 673.6 L1428.4 672.8 L1430.9 672.0 L1433.3 672.0 L1435.8 672.8 L1438.2 670.4 L1440.6 672.0 L1443.1 672.8 L1445.5 672.0 L1448.0 674.4 L1450.4 672.0 L1452.8 672.0 L1455.3 670.4 L1457.7 672.8 L1460.2 673.6 L1462.6 672.0 L1465.0 674.4 L1467.5 671.2 L1469.9 673.6 L1472.4 674.4 L1474.8 672.8 L1477.2 672.8 L1479.7 676.3 L1482.1 672.8 L1484.6 672.8 L1487.0 672.8 L1489.4 673.6 L1491.9 673.6 L1494.3 672.8 L1496.8 676.3 L1499.2 672.8 L1501.6 673.6 L1504.1 676.3 L1506.5 672.8 L1509.0 669.6 L1511.4 673.6 L1513.8 669.6 L1516.3 675.2 L1518.7 669.6 L1521.2 673.6 L1523.6 673.6 L1526.0 672.8 L1528.5 674.4 L1530.9 674.4 L1533.4 671.2 L1535.8 672.0 L1538.2 670.4 L1540.7 672.0 L1543.1 672.8 L1545.6 673.6 L1548.0 672.8 L1550.4 676.3 L1552.9 670.4 L1555.3 672.8 L1557.8 673.6 L1560.2 672.8 L1562.6 673.6 L1565.1 672.8 L1567.5 675.2 L1570.0 672.8 L1572.4 676.3 L1574.8 673.6 L1577.3 672.8 L1579.7 671.2 L1582.2 669.6 L1584.6 672.8 L1587.0 672.8 L1589.5 673.6 L1591.9 669.6 L1594.4 672.8 L1596.8 672.0 L1599.2 672.8 L1601.7 672.0 L1604.1 674.4 L1606.6 673.6 L1609.0 673.6 L1611.4 671.2 L1613.9 672.8 L1616.3 672.8 L1618.8 674.4 L1621.2 670.4 L1623.6 672.8 L1626.1 672.8 L1628.5 672.8 L1631.0 673.6 L1633.4 672.8 L1635.8 672.8 L1638.3 672.8 L1640.7 673.6 L1643.2 675.2 L1645.6 673.6 L1648.0 674.4 L1650.5 676.3 L1652.9 672.8 L1655.4 673.6 L1657.8 672.0 L1660.2 674.4 L1662.7 675.2 L1665.1 672.8 L1667.6 673.6 L1670.0 672.0 L1672.4 676.3 L1674.9 672.8 L1677.3 673.6 L1679.8 672.8 L1682.2 672.8 L1684.6 672.8 L1687.1 670.4 L1689.5 674.4 L1692.0 674.4 L1694.4 672.8 L1696.8 674.4 L1699.3 672.0 L1701.7 672.8 L1704.2 672.0 L1706.6 672.8 L1709.0 675.2 L1711.5 669.6 L1713.9 675.2 L1716.4 673.6 L1718.8 675.2 L1721.2 672.0 L1723.7 674.4 L1726.1 669.6 L1728.6 673.6 L1731.0 674.4 L1733.4 673.6 L1735.9 670.4 L1738.3 672.8 L1740.8 672.8 L1743.2 672.0 L1745.6 672.8 L1748.1 669.6 L1750.5 670.4 L1753.0 670.4 L1755.4 675.2 L1757.8 672.8 L1760.3 673.6 L1762.7 672.0 L1765.2 672.8 L1767.6 669.6 L1770.0 672.8 L1772.5 672.8 L1774.9 672.8 L1777.4 675.2 L1779.8 670.4 L1782.2 673.6 L1784.7 673.6 L1787.1 672.8 L1789.6 672.8 L1792.0 672.8 L1794.4 675.2 L1796.9 669.6 L1799.3 673.6 L1801.8 669.6 L1804.2 674.4 L1806.6 675.2 L1809.1 673.6 L1811.5 671.2 L1814.0 672.8 L1816.4 670.4 L1818.8 673.6 L1821.3 672.8 L1823.7 672.0 L1826.2 672.8 L1828.6 672.8 L1831.0 673.6 L1833.5 672.0 L1835.9 672.8 L1838.4 673.6 L1840.8 672.0 L1843.2 672.0 L1845.7 674.4 L1848.1 672.0 L1850.6 672.8 L1853.0 672.8 L1855.4 673.6 L1857.9 672.8 L1860.3 672.0 L1862.8 672.8 L1865.2 672.8 L1867.6 672.0 L1870.1 673.6 L1872.5 672.8 L1875.0 672.0 L1877.4 673.6 L1879.8 674.4 L1882.3 675.2 L1884.7 672.8 L1887.2 672.8 L1889.6 674.4 L1892.0 676.3 L1894.5 672.8 L1896.9 672.8 L1899.4 673.6 L1901.8 669.6 L1904.2 672.8 L1906.7 672.8 L1909.1 673.6 L1911.6 671.2 L1914.0 672.8 L1916.4 673.6 L1918.9 672.8 L1921.3 673.6 L1923.8 673.6 L1926.2 675.2 L1928.6 672.8 L1931.1 672.8 L1933.5 671.2 L1936.0 674.4 L1938.4 669.6 L1940.8 676.3 L1943.3 672.8 L1945.7 675.2 L1948.2 670.4 L1950.6 676.3 L1953.0 671.2 L1955.5 673.6 L1957.9 676.3 L1960.4 672.0 L1962.8 670.4 L1965.2 672.0 L1967.7 672.8 L1970.1 673.6 L1972.6 670.4 L1975.0 671.2 L1977.4 675.2 L1979.9 672.8 L1982.3 672.8 L1984.8 669.6 L1987.2 669.6 L1989.6 670.4 L1992.1 674.4 L1994.5 675.2 L1997.0 673.6 L1999.4 670.4 L2001.8 670.4 L2004.3 676.3 L2006.7 674.4 L2009.2 672.8 L2011.6 674.4 L2014.0 676.3" fill="none" stroke="#e6b6e6" stroke-width="6" stroke-linejoin="round"/>
<path d="M84.0 672.0 L86.4 672.8 L88.9 673.6 L91.3 675.2 L93.8 672.8 L96.2 672.8 L98.6 669.6 L101.1 674.4 L103.5 672.8 L106.0 672.0 L108.4 671.2 L110.8 672.8 L113.3 674.4 L115.7 672.8 L118.2 672.8 L120.6 672.8 L123.0 673.6 L125.5 673.6 L127.9 672.8 L130.4 672.8 L132.8 672.8 L135.2 674.4 L137.7 673.6 L140.1 672.8 L142.6 669.6 L145.0 671.2 L147.4 672.8 L149.9 672.8 L152.3 675.2 L154.8 675.2 L157.2 671.2 L159.6 672.8 L162.1 671.2 L164.5 671.2 L167.0 673.6 L169.4 672.8 L171.8 672.8 L174.3 672.8 L176.7 674.4 L179.2 669.6 L181.6 672.8 L184.0 673.6 L186.5 673.6 L188.9 672.8 L191.4 674.4 L193.8 672.8 L196.2 671.2 L198.7 673.6 L201.1 674.4 L203.6 669.6 L206.0 675.2 L208.4 672.8 L210.9 672.8 L213.3 671.2 L215.8 671.2 L218.2 675.2 L220.6 672.8 L223.1 672.0 L225.5 672.8 L228.0 674.4 L230.4 670.4 L232.8 672.8 L235.3 671.2 L237.7 672.8 L240.2 671.2 L242.6 672.8 L245.0 672.0 L247.5 675.2 L249.9 674.4 L252.4 673.6 L254.8 676.3 L257.2 672.0 L259.7 672.0 L262.1 671.2 L264.6 672.0 L267.0 672.0 L269.4 673.6 L271.9 672.8 L274.3 676.3 L276.8 672.8 L279.2 670.4 L281.6 676.3 L284.1 672.8 L286.5 672.8 L289.0 671.2 L291.4 673.6 L293.8 674.4 L296.3 672.0 L298.7 672.0 L301.2 670.4 L303.6 672.0 L306.0 673.6 L308.5 671.2 L310.9 672.8 L313.4 672.8 L315.8 674.4 L318.2 673.6 L320.7 672.8 L323.1 676.3 L325.6 672.0 L328.0 672.8 L330.4 672.0 L332.9 673.6 L335.3 672.8 L337.8 675.2 L340.2 672.8 L342.6 676.3 L345.1 674.4 L347.5 671.2 L350.0 676.3 L352.4 669.6 L354.8 672.0 L357.3 672.0 L359.7 670.4 L362.2 672.0 L364.6 671.2 L367.0 672.0 L369.5 671.2 L371.9 676.3 L374.4 672.0 L376.8 672.8 L379.2 669.6 L381.7 672.8 L384.1 673.6 L386.6 672.0 L389.0 670.4 L391.4 675.2 L393.9 672.8 L396.3 672.8 L398.8 670.4 L401.2 670.4 L403.6 673.6 L406.1 675.2 L408.5 671.2 L411.0 675.2 L413.4 669.6 L415.8 672.0 L418.3 673.6 L420.7 670.4 L423.2 673.6 L425.6 675.2 L428.0 672.0 L430.5 672.8 L432.9 672.0 L435.4 672.0 L437.8 672.8 L440.2 671.2 L442.7 672.8 L445.1 672.0 L447.6 672.8 L450.0 672.8 L452.4 676.3 L454.9 673.6 L457.3 672.8 L459.8 670.4 L462.2 672.8 L464.6 673.6 L467.1 673.6 L469.5 669.6 L472.0 672.0 L474.4 672.8 L476.8 672.8 L479.3 672.0 L481.7 673.6 L484.2 674.4 L486.6 673.6 L489.0 672.8 L491.5 669.6 L493.9 673.6 L496.4 669.6 L498.8 674.4 L501.2 673.6 L503.7 670.4 L506.1 673.6 L508.6 672.0 L511.0 675.2 L513.4 673.6 L515.9 672.8 L518.3 672.8 L520.8 672.8 L523.2 672.8 L525.6 672.8 L528.1 672.8 L530.5 675.2 L533.0 672.8 L535.4 672.8 L537.8 672.0 L540.3 669.6 L542.7 671.2 L545.2 672.8 L547.6 673.6 L550.0 673.6 L552.5 672.8 L554.9 672.8 L557.4 673.6 L559.8 674.4 L562.2 672.0 L564.7 671.2 L567.1 671.2 L569.6 672.0 L572.0 672.8 L574.4 670.4 L576.9 669.6 L579.3 674.4 L581.8 671.2 L584.2 675.2 L586.6 675.2 L589.1 670.4 L591.5 672.8 L594.0 672.0 L596.4 669.6 L598.8 676.3 L601.3 669.6 L603.7 675.2 L606.2 676.3 L608.6 674.4 L611.0 673.6 L613.5 673.6 L615.9 673.6 L618.4 673.6 L620.8 672.8 L623.2 672.0 L625.7 675.2 L628.1 673.6 L630.6 672.8 L633.0 672.8 L635.4 672.8 L637.9 672.8 L640.3 672.0 L642.8 672.8 L645.2 672.8 L647.6 672.0 L650.1 671.2 L652.5 672.8 L655.0 672.8 L657.4 672.8 L659.8 671.2 L662.3 672.8 L664.7 674.4 L667.2 672.8 L669.6 672.0 L672.0 671.2 L674.5 672.8 L676.9 672.8 L679.4 669.6 L681.8 672.8 L684.2 671.2 L686.7 673.6 L689.1 672.8 L691.6 675.2 L694.0 673.6 L696.4 672.0 L698.9 671.2 L701.3 672.0 L703.8 672.0 L706.2 672.8 L708.6 672.8 L711.1 669.6 L713.5 672.0 L716.0 672.0 L718.4 672.0 L720.8 672.0 L723.3 673.6 L725.7 672.8 L728.2 672.8 L730.6 672.8 L733.0 670.4 L735.5 672.0 L737.9 670.4 L740.4 673.6 L742.8 672.0 L745.2 669.6 L747.7 670.4 L750.1 672.8 L752.6 674.4 L755.0 672.8 L757.4 672.8 L759.9 674.4 L762.3 672.0 L764.8 672.8 L767.2 670.4 L769.6 674.4 L772.1 672.8 L774.5 676.3 L777.0 674.4 L779.4 673.6 L781.8 675.2 L784.3 669.6 L786.7 672.8 L789.2 670.4 L791.6 669.6 L794.0 673.6 L796.5 674.4 L798.9 672.0 L801.4 672.8 L803.8 672.0 L806.2 676.3 L808.7 672.8 L811.1 674.4 L813.6 674.4 L816.0 676.3 L818.4 674.4 L820.9 672.0 L823.3 675.2 L825.8 672.8 L828.2 671.2 L830.6 676.3 L833.1 676.3 L835.5 676.3 L838.0 669.6 L840.4 672.8 L842.8 676.3 L845.3 672.8 L847.7 669.6 L850.2 673.6 L852.6 670.4 L855.0 676.3 L857.5 672.8 L859.9 672.8 L862.4 674.4 L864.8 672.0 L867.2 672.0 L869.7 670.4 L872.1 672.8 L874.6 672.8 L877.0 676.3 L879.4 673.6 L881.9 672.0 L884.3 673.6 L886.8 672.8 L889.2 670.4 L891.6 671.2 L894.1 672.0 L896.5 672.0 L899.0 676.3 L901.4 670.4 L903.8 672.0 L906.3 672.0 L908.7 672.8 L911.2 672.8 L913.6 672.8 L916.0 672.8 L918.5 672.0 L920.9 672.8 L923.4 672.0 L925.8 672.8 L928.2 672.0 L930.7 671.2 L933.1 671.2 L935.6 669.6 L938.0 672.8 L940.4 672.0 L942.9 675.2 L945.3 672.0 L947.8 676.3 L950.2 675.2 L952.6 672.8 L955.1 669.6 L957.5 675.2 L960.0 672.8 L962.4 673.6 L964.8 676.3 L967.3 670.4 L969.7 676.3 L972.2 672.8 L974.6 672.0 L977.0 672.8 L979.5 673.6 L981.9 676.3 L984.4 675.2 L986.8 672.0 L989.2 672.8 L991.7 676.3 L994.1 670.4 L996.6 673.6 L999.0 672.0 L1001.4 673.6 L1003.9 670.4 L1006.3 672.8 L1008.8 670.4 L1011.2 672.8 L1013.6 672.8 L1016.1 672.8 L1018.5 672.8 L1021.0 672.8 L1023.4 671.2 L1025.8 672.0 L1028.3 676.3 L1030.7 675.2 L1033.2 672.8 L1035.6 671.2 L1038.0 669.6 L1040.5 671.2 L1042.9 672.0 L1045.4 675.2 L1047.8 672.0 L1050.2 672.8 L1052.7 674.4 L1055.1 674.4 L1057.6 672.8 L1060.0 672.8 L1062.4 672.8 L1064.9 676.3 L1067.3 670.4 L1069.8 675.2 L1072.2 672.8 L1074.6 674.4 L1077.1 670.4 L1079.5 672.8 L1082.0 673.6 L1084.4 669.6 L1086.8 672.8 L1089.3 669.6 L1091.7 669.6 L1094.2 672.8 L1096.6 672.8 L1099.0 673.6 L1101.5 672.8 L1103.9 673.6 L1106.4 674.4 L1108.8 672.8 L1111.2 676.3 L1113.7 671.2 L1116.1 672.0 L1118.6 673.6 L1121.0 674.4 L1123.4 673.6 L1125.9 669.6 L1128.3 672.8 L1130.8 672.8 L1133.2 670.4 L1135.6 672.0 L1138.1 672.0 L1140.5 675.2 L1143.0 671.2 L1145.4 669.6 L1147.8 674.4 L1150.3 673.6 L1152.7 669.6 L1155.2 674.4 L1157.6 672.8 L1160.0 674.4 L1162.5 672.8 L1164.9 674.4 L1167.4 674.4 L1169.8 672.8 L1172.2 669.6 L1174.7 672.0 L1177.1 676.3 L1179.6 672.8 L1182.0 671.2 L1184.4 672.8 L1186.9 676.3 L1189.3 676.3 L1191.8 672.8 L1194.2 672.8 L1196.6 672.8 L1199.1 672.0 L1201.5 671.2 L1204.0 670.4 L1206.4 672.8 L1208.8 674.4 L1211.3 672.8 L1213.7 672.0 L1216.2 675.2 L1218.6 674.4 L1221.0 674.4 L1223.5 674.4 L1225.9 672.0 L1228.4 676.3 L1230.8 676.3 L1233.2 672.8 L1235.7 674.4 L1238.1 672.8 L1240.6 672.8 L1243.0 672.8 L1245.4 673.6 L1247.9 672.8 L1250.3 676.3 L1252.8 672.8 L1255.2 674.4 L1257.6 672.0 L1260.1 674.4 L1262.5 672.8 L1265.0 676.3 L1267.4 672.8 L1269.8 672.0 L1272.3 672.0 L1274.7 671.2 L1277.2 674.4 L1279.6 671.2 L1282.0 674.4 L1284.5 672.8 L1286.9 670.4 L1289.4 673.6 L1291.8 672.0 L1294.2 674.4 L1296.7 674.4 L1299.1 676.3 L1301.6 672.0 L1304.0 674.4 L1306.4 672.8 L1308.9 670.4 L1311.3 674.4 L1313.8 673.6 L1316.2 674.4 L1318.6 672.8 L1321.1 669.6 L1323.5 672.0 L1326.0 672.8 L1328.4 673.6 L1330.8 672.8 L1333.3 673.6 L1335.7 672.0 L1338.2 672.0 L1340.6 672.8 L1343.0 675.2 L1345.5 672.8 L1347.9 673.6 L1350.4 672.8 L1352.8 672.8 L1355.2 675.2 L1357.7 673.6 L1360.1 676.3 L1362.6 672.8 L1365.0 676.3 L1367.4 672.8 L1369.9 670.4 L1372.3 675.2 L1374.8 675.2 L1377.2 672.0 L1379.6 672.8 L1382.1 673.6 L1384.5 672.8 L1387.0 672.0 L1389.4 672.8 L1391.8 670.4 L1394.3 672.8 L1396.7 673.6 L1399.2 672.0 L1401.6 672.8 L1404.0 675.2 L1406.5 669.6 L1408.9 672.8 L1411.4 672.8 L1413.8 670.4 L1416.2 673.6 L1418.7 674.4 L1421.1 673.6 L1423.6 672.0 L1426.0 673.6 L1428.4 672.8 L1430.9 672.0 L1433.3 672.0 L1435.8 672.8 L1438.2 670.4 L1440.6 672.0 L1443.1 672.8 L1445.5 672.0 L1448.0 674.4 L1450.4 672.0 L1452.8 672.0 L1455.3 670.4 L1457.7 672.8 L1460.2 673.6 L1462.6 672.0 L1465.0 674.4 L1467.5 671.2 L1469.9 673.6 L1472.4 674.4 L1474.8 672.8 L1477.2 672.8 L1479.7 676.3 L1482.1 672.8 L1484.6 672.8 L1487.0 672.8 L1489.4 673.6 L1491.9 673.6 L1494.3 672.8 L1496.8 676.3 L1499.2 672.8 L1501.6 673.6 L1504.1 676.3 L1506.5 672.8 L1509.0 669.6 L1511.4 673.6 L1513.8 669.6 L1516.3 675.2 L1518.7 669.6 L1521.2 673.6 L1523.6 673.6 L1526.0 672.8 L1528.5 674.4 L1530.9 674.4 L1533.4 671.2 L1535.8 672.0 L1538.2 670.4 L1540.7 672.0 L1543.1 672.8 L1545.6 673.6 L1548.0 672.8 L1550.4 676.3 L1552.9 670.4 L1555.3 672.8 L1557.8 673.6 L1560.2 672.8 L1562.6 673.6 L1565.1 672.8 L1567.5 675.2 L1570.0 672.8 L1572.4 676.3 L1574.8 673.6 L1577.3 672.8 L1579.7 671.2 L1582.2 669.6 L1584.6 672.8 L1587.0 672.8 L1589.5 673.6 L1591.9 669.6 L1594.4 672.8 L1596.8 672.0 L1599.2 672.8 L1601.7 672.0 L1604.1 674.4 L1606.6 673.6 L1609.0 673.6 L1611.4 671.2 L1613.9 672.8 L1616.3 672.8 L1618.8 674.4 L1621.2 670.4 L1623.6 672.8 L1626.1 672.8 L1628.5 672.8 L1631.0 673.6 L1633.4 672.8 L1635.8 672.8 L1638.3 672.8 L1640.7 673.6 L1643.2 675.2 L1645.6 673.6 L1648.0 674.4 L1650.5 676.3 L1652.9 672.8 L1655.4 673.6 L1657.8 672.0 L1660.2 674.4 L1662.7 675.2 L1665.1 672.8 L1667.6 673.6 L1670.0 672.0 L1672.4 676.3 L1674.9 672.8 L1677.3 673.6 L1679.8 672.8 L1682.2 672.8 L1684.6 672.8 L1687.1 670.4 L1689.5 674.4 L1692.0 674.4 L1694.4 672.8 L1696.8 674.4 L1699.3 672.0 L1701.7 672.8 L1704.2 672.0 L1706.6 672.8 L1709.0 675.2 L1711.5 669.6 L1713.9 675.2 L1716.4 673.6 L1718.8 675.2 L1721.2 672.0 L1723.7 674.4 L1726.1 669.6 L1728.6 673.6 L1731.0 674.4 L1733.4 673.6 L1735.9 670.4 L1738.3 672.8 L1740.8 672.8 L1743.2 672.0 L1745.6 672.8 L1748.1 669.6 L1750.5 670.4 L1753.0 670.4 L1755.4 675.2 L1757.8 672.8 L1760.3 673.6 L1762.7 672.0 L1765.2 672.8 L1767.6 669.6 L1770.0 672.8 L1772.5 672.8 L1774.9 672.8 L1777.4 675.2 L1779.8 670.4 L1782.2 673.6 L1784.7 673.6 L1787.1 672.8 L1789.6 672.8 L1792.0 672.8 L1794.4 675.2 L1796.9 669.6 L1799.3 673.6 L1801.8 669.6 L1804.2 674.4 L1806.6 675.2 L1809.1 673.6 L1811.5 671.2 L1814.0 672.8 L1816.4 670.4 L1818.8 673.6 L1821.3 672.8 L1823.7 672.0 L1826.2 672.8 L1828.6 672.8 L1831.0 673.6 L1833.5 672.0 L1835.9 672.8 L1838.4 673.6 L1840.8 672.0 L1843.2 672.0 L1845.7 674.4 L1848.1 672.0 L1850.6 672.8 L1853.0 672.8 L1855.4 673.6 L1857.9 672.8 L1860.3 672.0 L1862.8 672.8 L1865.2 672.8 L1867.6 672.0 L1870.1 673.6 L1872.5 672.8 L1875.0 672.0 L1877.4 673.6 L1879.8 674.4 L1882.3 675.2 L1884.7 672.8 L1887.2 672.8 L1889.6 674.4 L1892.0 676.3 L1894.5 672.8 L1896.9 672.8 L1899.4 673.6 L1901.8 669.6 L1904.2 672.8 L1906.7 672.8 L1909.1 673.6 L1911.6 671.2 L1914.0 672.8 L1916.4 673.6 L1918.9 672.8 L1921.3 673.6 L1923.8 673.6 L1926.2 675.2 L1928.6 672.8 L1931.1 672.8 L1933.5 671.2 L1936.0 674.4 L1938.4 669.6 L1940.8 676.3 L1943.3 672.8 L1945.7 675.2 L1948.2 670.4 L1950.6 676.3 L1953.0 671.2 L1955.5 673.6 L1957.9 676.3 L1960.4 672.0 L1962.8 670.4 L1965.2 672.0 L1967.7 672.8 L1970.1 673.6 L1972.6 670.4 L1975.0 671.2 L1977.4 675.2 L1979.9 672.8 L1982.3 672.8 L1984.8 669.6 L1987.2 669.6 L1989.6 670.4 L1992.1 674.4 L1994.5 675.2 L1997.0 673.6 L1999.4 670.4 L2001.8 670.4 L2004.3 676.3 L2006.7 674.4 L2009.2 672.8 L2011.6 674.4 L2014.0 676.3" fill="none" stroke="#ab4bab" stroke-width="3.4" stroke-linejoin="round"/>
<path d="M125.0 673 L126.5 684.0 L128.0 673" fill="none" stroke="#a24aa2" stroke-width="1.6"/>
<circle cx="126.5" cy="684.0" r="2.3" fill="#8a3a8a"/>
<path d="M137.5 673 L139.0 683.0 L140.5 673" fill="none" stroke="#a24aa2" stroke-width="1.6"/>
<circle cx="139.0" cy="683.0" r="2.3" fill="#8a3a8a"/>
<path d="M429.5 673 L431.0 683.0 L432.5 673" fill="none" stroke="#a24aa2" stroke-width="1.6"/>
<circle cx="431.0" cy="683.0" r="2.3" fill="#8a3a8a"/>
<path d="M439.1 673 L440.6 683.0 L442.1 673" fill="none" stroke="#a24aa2" stroke-width="1.6"/>
<circle cx="440.6" cy="683.0" r="2.3" fill="#8a3a8a"/>
<path d="M1743.0 673 L1744.5 684.0 L1746.0 673" fill="none" stroke="#a24aa2" stroke-width="1.6"/>
<circle cx="1744.5" cy="684.0" r="2.3" fill="#8a3a8a"/>
<path d="M1989.5 673 L1991.0 678.0 L1992.5 673" fill="none" stroke="#a24aa2" stroke-width="1.6"/>
<circle cx="1991.0" cy="678.0" r="2.3" fill="#8a3a8a"/>
<path d="M2006.0 673 L2007.5 685.0 L2009.0 673" fill="none" stroke="#a24aa2" stroke-width="1.6"/>
<circle cx="2007.5" cy="685.0" r="2.3" fill="#8a3a8a"/>
<path d="M84.0 729.0 L87.7 721.4 L92.5 742.3 L97.9 734.6 L101.4 748.9 L105.6 766.7 L108.9 762.4 L112.3 758.1 L115.6 753.9 L119.0 749.6 L122.3 745.3 L126.5 769.1 L130.1 766.3 L133.6 763.6 L137.2 760.8 L139.6 772.7 L143.1 769.8 L146.7 767.7 L150.8 769.8 L155.0 770.2 L159.2 772.0 L163.4 772.0 L167.3 771.3 L171.1 770.7 L175.0 770.5 L178.3 770.2 L181.7 771.3 L185.0 772.8 L188.3 772.1 L191.7 769.9 L195.0 770.0 L198.8 770.3 L202.5 769.8 L206.3 771.4 L209.7 772.5 L213.2 772.0 L216.6 773.2 L220.0 774.8 L223.8 774.6 L227.5 774.3 L231.3 774.9 L234.4 775.1 L237.5 773.7 L240.7 773.9 L243.8 774.0 L246.9 772.1 L250.0 772.0 L253.4 771.0 L256.9 771.5 L260.4 771.0 L263.8 770.6 L267.2 770.4 L270.7 769.9 L274.0 769.8 L277.2 769.0 L280.5 769.7 L283.7 768.3 L287.0 768.8 L290.2 767.9 L293.5 769.1 L296.7 768.6 L300.0 767.7 L303.1 768.8 L306.2 767.7 L309.3 767.5 L312.5 767.4 L315.6 766.9 L318.7 766.8 L321.8 767.9 L324.9 767.3 L328.0 767.9 L331.2 767.0 L334.3 767.6 L337.4 766.2 L340.5 766.5 L343.5 766.9 L346.6 767.0 L349.6 765.6 L352.7 765.1 L355.7 765.3 L358.7 766.4 L361.8 766.3 L364.8 766.1 L367.9 765.2 L370.9 764.2 L373.9 765.4 L377.0 764.3 L380.0 764.6 L383.1 765.3 L386.1 764.3 L389.1 763.7 L392.2 764.8 L395.2 763.9 L398.3 762.9 L401.3 764.4 L404.7 763.2 L408.1 764.7 L411.5 764.5 L414.8 764.6 L418.2 764.3 L421.6 763.6 L425.0 765.0 L428.3 766.0 L431.7 765.2 L435.1 766.1 L438.4 766.7 L441.8 768.2 L445.0 766.8 L448.2 766.6 L451.4 766.8 L454.5 767.1 L457.7 766.5 L460.9 767.4 L464.1 767.5 L467.3 767.4 L470.4 767.2 L473.6 766.3 L476.8 766.6 L480.0 766.0 L483.1 766.7 L486.1 766.6 L489.2 766.5 L492.3 765.0 L495.3 765.9 L498.4 766.1 L501.4 764.7 L504.5 765.9 L507.6 764.5 L510.6 764.9 L513.7 764.2 L516.8 764.6 L519.8 764.0 L522.9 763.9 L525.9 765.3 L529.0 764.5 L532.0 765.1 L535.0 764.7 L538.1 764.2 L541.1 764.3 L544.1 764.4 L547.2 764.9 L550.2 765.8 L553.2 765.8 L556.3 764.3 L559.3 765.2 L562.4 764.7 L565.4 766.1 L568.4 764.9 L571.5 765.4 L574.5 765.0 L577.5 765.6 L580.6 765.6 L583.6 765.2 L586.6 766.1 L589.7 765.9 L592.7 764.8 L595.8 766.0 L598.8 764.2 L601.8 764.4 L604.9 765.3 L607.9 764.1 L611.0 765.3 L614.0 764.4 L617.0 765.0 L620.1 763.3 L623.1 763.2 L626.2 764.3 L629.2 763.7 L632.2 763.6 L635.3 764.2 L638.3 764.1 L641.4 762.4 L644.4 763.5 L647.4 762.4 L650.5 763.6 L653.5 762.7 L656.6 761.7 L659.6 762.9 L662.6 762.8 L665.7 762.9 L668.7 762.8 L671.8 761.4 L674.8 761.2 L677.8 761.1 L680.9 761.0 L683.9 760.8 L687.0 762.0 L690.0 761.6 L693.0 760.4 L696.1 761.6 L699.1 759.9 L702.2 761.3 L705.2 760.4 L708.2 760.8 L711.2 760.7 L714.2 760.1 L717.2 760.5 L720.2 759.5 L723.2 759.8 L726.2 759.3 L729.2 760.0 L732.2 759.1 L735.2 759.0 L738.2 759.3 L741.2 759.2 L744.2 759.1 L747.2 758.9 L750.2 758.8 L753.2 759.1 L756.2 758.6 L759.2 758.9 L762.2 758.4 L765.2 758.7 L768.2 758.6 L771.2 758.1 L774.2 758.0 L777.2 757.5 L780.2 757.4 L783.2 757.3 L786.2 757.6 L789.2 757.2 L792.2 757.9 L795.2 757.9 L798.2 757.4 L801.2 757.0 L804.2 757.7 L807.2 757.7 L810.2 757.2 L813.2 757.2 L816.2 757.1 L819.2 757.5 L822.2 757.0 L825.2 756.6 L828.2 756.6 L831.2 756.5 L834.2 756.5 L837.2 757.2 L840.2 756.8 L843.2 756.7 L846.2 756.7 L849.2 756.2 L852.2 756.2 L855.2 756.1 L858.2 756.5 L861.2 756.4 L864.2 756.0 L867.2 756.0 L870.3 755.9 L873.3 756.3 L876.3 756.2 L879.3 756.2 L882.3 756.1 L885.3 756.1 L888.3 756.0 L891.3 755.6 L894.3 755.9 L897.3 755.9 L900.3 755.8 L903.3 755.8 L906.3 755.7 L909.3 755.7 L912.3 756.1 L915.3 755.6 L918.3 756.0 L921.3 755.1 L924.3 755.5 L927.3 755.4 L930.3 755.4 L933.3 755.7 L936.3 755.3 L939.3 754.8 L942.3 755.6 L945.3 755.1 L948.3 755.1 L951.3 755.1 L954.3 755.4 L957.3 754.6 L960.3 755.3 L963.4 755.3 L966.4 754.8 L969.4 754.4 L972.4 754.8 L975.4 754.7 L978.4 754.7 L981.4 754.2 L984.4 755.0 L987.4 754.6 L990.4 754.5 L993.5 754.5 L996.5 754.0 L999.5 754.0 L1002.5 754.3 L1005.5 754.7 L1008.5 754.3 L1011.5 753.8 L1014.5 754.6 L1017.5 754.1 L1020.6 753.7 L1023.6 754.1 L1026.6 754.4 L1029.6 753.6 L1032.6 754.3 L1035.6 753.5 L1038.6 753.8 L1041.6 753.8 L1044.6 754.2 L1047.6 753.7 L1050.7 753.7 L1053.7 753.2 L1056.7 753.6 L1059.7 754.0 L1062.7 753.5 L1065.7 753.5 L1068.7 753.0 L1071.7 753.4 L1074.7 753.7 L1077.7 753.7 L1080.8 753.3 L1083.8 752.8 L1086.8 753.2 L1089.8 753.1 L1092.8 752.7 L1095.8 752.7 L1098.8 753.0 L1101.8 753.0 L1104.8 752.5 L1107.9 752.9 L1110.9 752.8 L1113.9 752.8 L1116.9 752.8 L1119.9 752.3 L1122.9 752.7 L1125.9 752.6 L1128.9 752.6 L1131.9 752.2 L1134.9 752.1 L1138.0 752.9 L1141.0 752.4 L1144.0 752.4 L1147.0 752.3 L1150.0 752.7 L1153.0 752.3 L1156.0 752.2 L1159.1 751.8 L1162.1 752.2 L1165.1 752.6 L1168.1 751.7 L1171.1 752.5 L1174.1 752.5 L1177.2 751.7 L1180.2 752.0 L1183.2 752.0 L1186.2 752.0 L1189.2 751.9 L1192.3 752.3 L1195.3 751.9 L1198.3 752.3 L1201.3 751.4 L1204.3 751.8 L1207.3 751.8 L1210.4 751.4 L1213.4 752.1 L1216.4 752.1 L1219.4 751.3 L1222.4 751.6 L1225.4 751.6 L1228.5 751.2 L1231.5 751.6 L1234.5 751.9 L1237.5 751.1 L1240.5 751.5 L1243.6 751.9 L1246.6 751.8 L1249.6 751.0 L1252.6 751.4 L1255.6 750.9 L1258.6 751.3 L1261.7 750.9 L1264.7 751.3 L1267.7 750.8 L1270.7 751.2 L1273.7 750.8 L1276.8 751.2 L1279.8 751.1 L1282.8 751.5 L1285.8 751.1 L1288.8 751.0 L1291.8 751.4 L1294.9 751.4 L1297.9 751.4 L1300.9 751.3 L1303.9 750.9 L1306.9 751.3 L1310.0 751.3 L1313.0 751.2 L1316.0 751.2 L1319.0 750.8 L1322.0 750.7 L1325.0 750.7 L1328.1 750.7 L1331.1 750.7 L1334.1 750.2 L1337.1 750.2 L1340.1 750.2 L1343.2 751.0 L1346.2 750.1 L1349.2 750.1 L1352.2 750.5 L1355.2 750.0 L1358.2 750.4 L1361.3 750.4 L1364.3 750.8 L1367.3 750.3 L1370.3 750.3 L1373.3 750.7 L1376.3 750.6 L1379.4 749.8 L1382.4 750.6 L1385.4 750.2 L1388.4 750.1 L1391.4 749.7 L1394.5 750.1 L1397.5 750.1 L1400.5 749.6 L1403.5 750.0 L1406.5 750.0 L1409.5 749.5 L1412.6 750.3 L1415.6 749.9 L1418.6 749.5 L1421.6 749.8 L1424.6 749.8 L1427.7 750.2 L1430.7 749.8 L1433.7 749.7 L1436.7 749.7 L1439.7 749.3 L1442.7 749.2 L1445.8 749.2 L1448.8 749.6 L1451.8 749.6 L1454.8 749.5 L1457.8 749.1 L1460.9 749.1 L1463.9 749.5 L1466.9 749.4 L1469.9 749.8 L1472.9 749.8 L1475.9 749.7 L1479.0 749.7 L1482.0 749.7 L1485.0 749.7 L1488.0 749.6 L1491.0 749.2 L1494.1 748.8 L1497.1 749.2 L1500.1 749.1 L1503.1 749.1 L1506.1 749.1 L1509.1 749.0 L1512.2 749.4 L1515.2 749.0 L1518.2 749.4 L1521.2 748.9 L1524.2 748.5 L1527.2 749.3 L1530.3 748.9 L1533.3 748.8 L1536.3 748.8 L1539.3 748.4 L1542.3 748.7 L1545.4 748.7 L1548.4 748.7 L1551.4 748.3 L1554.4 748.6 L1557.4 748.2 L1560.4 749.0 L1563.5 748.6 L1566.5 748.9 L1569.5 748.5 L1572.5 748.5 L1575.6 748.5 L1578.6 748.4 L1581.6 748.4 L1584.7 748.4 L1587.7 748.8 L1590.8 748.4 L1593.8 747.9 L1596.8 748.7 L1599.9 748.3 L1602.9 748.3 L1605.9 748.7 L1609.0 748.2 L1612.0 748.2 L1615.0 748.6 L1618.1 748.6 L1621.1 748.1 L1624.2 748.1 L1627.2 748.1 L1630.2 748.5 L1633.3 748.1 L1636.3 748.0 L1639.3 748.0 L1642.4 748.4 L1645.4 747.6 L1648.4 748.4 L1651.5 747.9 L1654.5 748.3 L1657.5 747.9 L1660.6 747.9 L1663.6 747.9 L1666.7 747.4 L1669.7 747.4 L1672.7 747.8 L1675.8 747.4 L1678.8 747.8 L1681.8 747.3 L1684.9 747.7 L1687.9 747.7 L1690.9 747.7 L1694.0 747.3 L1697.0 748.0 L1700.1 747.2 L1703.1 748.0 L1706.1 748.0 L1709.2 747.1 L1712.2 747.5 L1715.2 747.9 L1718.3 747.9 L1721.3 747.1 L1724.3 747.0 L1727.4 747.4 L1730.4 747.8 L1733.5 747.4 L1736.5 747.0 L1739.5 746.9 L1742.6 747.3 L1745.6 747.3 L1748.6 746.9 L1751.6 747.3 L1754.6 746.9 L1757.7 747.3 L1760.7 747.3 L1763.7 746.8 L1766.7 747.6 L1769.7 746.8 L1772.7 747.2 L1775.8 747.2 L1778.8 747.2 L1781.8 747.2 L1784.8 747.2 L1787.8 746.8 L1790.8 747.2 L1793.9 747.6 L1796.9 747.1 L1799.9 747.1 L1802.9 747.5 L1805.9 747.5 L1808.9 747.1 L1811.9 747.1 L1815.0 747.1 L1818.0 747.1 L1821.0 746.7 L1824.0 746.7 L1827.0 747.1 L1830.0 747.4 L1833.1 747.0 L1836.1 747.0 L1839.1 746.6 L1842.1 747.4 L1845.1 747.0 L1848.1 746.6 L1851.2 747.0 L1854.2 747.0 L1857.2 747.0 L1860.2 746.6 L1863.2 746.9 L1866.2 746.5 L1869.2 746.9 L1872.3 746.9 L1875.3 746.9 L1878.3 746.5 L1881.3 746.9 L1884.3 746.5 L1887.3 747.3 L1890.4 746.9 L1893.4 746.9 L1896.4 746.9 L1899.4 746.8 L1902.4 746.8 L1905.4 746.8 L1908.4 747.2 L1911.5 746.8 L1914.5 746.4 L1917.5 746.4 L1920.5 747.2 L1923.5 746.4 L1926.5 747.2 L1929.6 746.8 L1932.6 746.3 L1935.6 746.3 L1938.6 747.1 L1941.6 746.3 L1944.6 746.3 L1947.7 746.7 L1950.7 746.7 L1953.7 746.7 L1956.7 746.3 L1959.7 746.3 L1962.7 746.7 L1965.7 746.2 L1968.8 746.2 L1971.8 746.6 L1974.8 746.2 L1977.8 746.2 L1980.8 746.6 L1983.8 746.6 L1986.9 746.6 L1989.9 747.0 L1992.9 746.2 L1995.9 747.0 L1998.9 746.5 L2001.9 746.1 L2005.0 746.5 L2008.0 746.5 L2011.0 746.5 L2014.0 746.5" fill="none" stroke="#e6f6f8" stroke-width="4.5" stroke-linejoin="round"/>
<path d="M84.0 729.0 L87.7 721.4 L92.5 742.3 L97.9 734.6 L101.4 748.9 L105.6 766.7 L108.9 762.4 L112.3 758.1 L115.6 753.9 L119.0 749.6 L122.3 745.3 L126.5 769.1 L130.1 766.3 L133.6 763.6 L137.2 760.8 L139.6 772.7 L143.1 769.8 L146.7 767.7 L150.8 769.8 L155.0 770.2 L159.2 772.0 L163.4 772.0 L167.3 771.3 L171.1 770.7 L175.0 770.5 L178.3 770.2 L181.7 771.3 L185.0 772.8 L188.3 772.1 L191.7 769.9 L195.0 770.0 L198.8 770.3 L202.5 769.8 L206.3 771.4 L209.7 772.5 L213.2 772.0 L216.6 773.2 L220.0 774.8 L223.8 774.6 L227.5 774.3 L231.3 774.9 L234.4 775.1 L237.5 773.7 L240.7 773.9 L243.8 774.0 L246.9 772.1 L250.0 772.0 L253.4 771.0 L256.9 771.5 L260.4 771.0 L263.8 770.6 L267.2 770.4 L270.7 769.9 L274.0 769.8 L277.2 769.0 L280.5 769.7 L283.7 768.3 L287.0 768.8 L290.2 767.9 L293.5 769.1 L296.7 768.6 L300.0 767.7 L303.1 768.8 L306.2 767.7 L309.3 767.5 L312.5 767.4 L315.6 766.9 L318.7 766.8 L321.8 767.9 L324.9 767.3 L328.0 767.9 L331.2 767.0 L334.3 767.6 L337.4 766.2 L340.5 766.5 L343.5 766.9 L346.6 767.0 L349.6 765.6 L352.7 765.1 L355.7 765.3 L358.7 766.4 L361.8 766.3 L364.8 766.1 L367.9 765.2 L370.9 764.2 L373.9 765.4 L377.0 764.3 L380.0 764.6 L383.1 765.3 L386.1 764.3 L389.1 763.7 L392.2 764.8 L395.2 763.9 L398.3 762.9 L401.3 764.4 L404.7 763.2 L408.1 764.7 L411.5 764.5 L414.8 764.6 L418.2 764.3 L421.6 763.6 L425.0 765.0 L428.3 766.0 L431.7 765.2 L435.1 766.1 L438.4 766.7 L441.8 768.2 L445.0 766.8 L448.2 766.6 L451.4 766.8 L454.5 767.1 L457.7 766.5 L460.9 767.4 L464.1 767.5 L467.3 767.4 L470.4 767.2 L473.6 766.3 L476.8 766.6 L480.0 766.0 L483.1 766.7 L486.1 766.6 L489.2 766.5 L492.3 765.0 L495.3 765.9 L498.4 766.1 L501.4 764.7 L504.5 765.9 L507.6 764.5 L510.6 764.9 L513.7 764.2 L516.8 764.6 L519.8 764.0 L522.9 763.9 L525.9 765.3 L529.0 764.5 L532.0 765.1 L535.0 764.7 L538.1 764.2 L541.1 764.3 L544.1 764.4 L547.2 764.9 L550.2 765.8 L553.2 765.8 L556.3 764.3 L559.3 765.2 L562.4 764.7 L565.4 766.1 L568.4 764.9 L571.5 765.4 L574.5 765.0 L577.5 765.6 L580.6 765.6 L583.6 765.2 L586.6 766.1 L589.7 765.9 L592.7 764.8 L595.8 766.0 L598.8 764.2 L601.8 764.4 L604.9 765.3 L607.9 764.1 L611.0 765.3 L614.0 764.4 L617.0 765.0 L620.1 763.3 L623.1 763.2 L626.2 764.3 L629.2 763.7 L632.2 763.6 L635.3 764.2 L638.3 764.1 L641.4 762.4 L644.4 763.5 L647.4 762.4 L650.5 763.6 L653.5 762.7 L656.6 761.7 L659.6 762.9 L662.6 762.8 L665.7 762.9 L668.7 762.8 L671.8 761.4 L674.8 761.2 L677.8 761.1 L680.9 761.0 L683.9 760.8 L687.0 762.0 L690.0 761.6 L693.0 760.4 L696.1 761.6 L699.1 759.9 L702.2 761.3 L705.2 760.4 L708.2 760.8 L711.2 760.7 L714.2 760.1 L717.2 760.5 L720.2 759.5 L723.2 759.8 L726.2 759.3 L729.2 760.0 L732.2 759.1 L735.2 759.0 L738.2 759.3 L741.2 759.2 L744.2 759.1 L747.2 758.9 L750.2 758.8 L753.2 759.1 L756.2 758.6 L759.2 758.9 L762.2 758.4 L765.2 758.7 L768.2 758.6 L771.2 758.1 L774.2 758.0 L777.2 757.5 L780.2 757.4 L783.2 757.3 L786.2 757.6 L789.2 757.2 L792.2 757.9 L795.2 757.9 L798.2 757.4 L801.2 757.0 L804.2 757.7 L807.2 757.7 L810.2 757.2 L813.2 757.2 L816.2 757.1 L819.2 757.5 L822.2 757.0 L825.2 756.6 L828.2 756.6 L831.2 756.5 L834.2 756.5 L837.2 757.2 L840.2 756.8 L843.2 756.7 L846.2 756.7 L849.2 756.2 L852.2 756.2 L855.2 756.1 L858.2 756.5 L861.2 756.4 L864.2 756.0 L867.2 756.0 L870.3 755.9 L873.3 756.3 L876.3 756.2 L879.3 756.2 L882.3 756.1 L885.3 756.1 L888.3 756.0 L891.3 755.6 L894.3 755.9 L897.3 755.9 L900.3 755.8 L903.3 755.8 L906.3 755.7 L909.3 755.7 L912.3 756.1 L915.3 755.6 L918.3 756.0 L921.3 755.1 L924.3 755.5 L927.3 755.4 L930.3 755.4 L933.3 755.7 L936.3 755.3 L939.3 754.8 L942.3 755.6 L945.3 755.1 L948.3 755.1 L951.3 755.1 L954.3 755.4 L957.3 754.6 L960.3 755.3 L963.4 755.3 L966.4 754.8 L969.4 754.4 L972.4 754.8 L975.4 754.7 L978.4 754.7 L981.4 754.2 L984.4 755.0 L987.4 754.6 L990.4 754.5 L993.5 754.5 L996.5 754.0 L999.5 754.0 L1002.5 754.3 L1005.5 754.7 L1008.5 754.3 L1011.5 753.8 L1014.5 754.6 L1017.5 754.1 L1020.6 753.7 L1023.6 754.1 L1026.6 754.4 L1029.6 753.6 L1032.6 754.3 L1035.6 753.5 L1038.6 753.8 L1041.6 753.8 L1044.6 754.2 L1047.6 753.7 L1050.7 753.7 L1053.7 753.2 L1056.7 753.6 L1059.7 754.0 L1062.7 753.5 L1065.7 753.5 L1068.7 753.0 L1071.7 753.4 L1074.7 753.7 L1077.7 753.7 L1080.8 753.3 L1083.8 752.8 L1086.8 753.2 L1089.8 753.1 L1092.8 752.7 L1095.8 752.7 L1098.8 753.0 L1101.8 753.0 L1104.8 752.5 L1107.9 752.9 L1110.9 752.8 L1113.9 752.8 L1116.9 752.8 L1119.9 752.3 L1122.9 752.7 L1125.9 752.6 L1128.9 752.6 L1131.9 752.2 L1134.9 752.1 L1138.0 752.9 L1141.0 752.4 L1144.0 752.4 L1147.0 752.3 L1150.0 752.7 L1153.0 752.3 L1156.0 752.2 L1159.1 751.8 L1162.1 752.2 L1165.1 752.6 L1168.1 751.7 L1171.1 752.5 L1174.1 752.5 L1177.2 751.7 L1180.2 752.0 L1183.2 752.0 L1186.2 752.0 L1189.2 751.9 L1192.3 752.3 L1195.3 751.9 L1198.3 752.3 L1201.3 751.4 L1204.3 751.8 L1207.3 751.8 L1210.4 751.4 L1213.4 752.1 L1216.4 752.1 L1219.4 751.3 L1222.4 751.6 L1225.4 751.6 L1228.5 751.2 L1231.5 751.6 L1234.5 751.9 L1237.5 751.1 L1240.5 751.5 L1243.6 751.9 L1246.6 751.8 L1249.6 751.0 L1252.6 751.4 L1255.6 750.9 L1258.6 751.3 L1261.7 750.9 L1264.7 751.3 L1267.7 750.8 L1270.7 751.2 L1273.7 750.8 L1276.8 751.2 L1279.8 751.1 L1282.8 751.5 L1285.8 751.1 L1288.8 751.0 L1291.8 751.4 L1294.9 751.4 L1297.9 751.4 L1300.9 751.3 L1303.9 750.9 L1306.9 751.3 L1310.0 751.3 L1313.0 751.2 L1316.0 751.2 L1319.0 750.8 L1322.0 750.7 L1325.0 750.7 L1328.1 750.7 L1331.1 750.7 L1334.1 750.2 L1337.1 750.2 L1340.1 750.2 L1343.2 751.0 L1346.2 750.1 L1349.2 750.1 L1352.2 750.5 L1355.2 750.0 L1358.2 750.4 L1361.3 750.4 L1364.3 750.8 L1367.3 750.3 L1370.3 750.3 L1373.3 750.7 L1376.3 750.6 L1379.4 749.8 L1382.4 750.6 L1385.4 750.2 L1388.4 750.1 L1391.4 749.7 L1394.5 750.1 L1397.5 750.1 L1400.5 749.6 L1403.5 750.0 L1406.5 750.0 L1409.5 749.5 L1412.6 750.3 L1415.6 749.9 L1418.6 749.5 L1421.6 749.8 L1424.6 749.8 L1427.7 750.2 L1430.7 749.8 L1433.7 749.7 L1436.7 749.7 L1439.7 749.3 L1442.7 749.2 L1445.8 749.2 L1448.8 749.6 L1451.8 749.6 L1454.8 749.5 L1457.8 749.1 L1460.9 749.1 L1463.9 749.5 L1466.9 749.4 L1469.9 749.8 L1472.9 749.8 L1475.9 749.7 L1479.0 749.7 L1482.0 749.7 L1485.0 749.7 L1488.0 749.6 L1491.0 749.2 L1494.1 748.8 L1497.1 749.2 L1500.1 749.1 L1503.1 749.1 L1506.1 749.1 L1509.1 749.0 L1512.2 749.4 L1515.2 749.0 L1518.2 749.4 L1521.2 748.9 L1524.2 748.5 L1527.2 749.3 L1530.3 748.9 L1533.3 748.8 L1536.3 748.8 L1539.3 748.4 L1542.3 748.7 L1545.4 748.7 L1548.4 748.7 L1551.4 748.3 L1554.4 748.6 L1557.4 748.2 L1560.4 749.0 L1563.5 748.6 L1566.5 748.9 L1569.5 748.5 L1572.5 748.5 L1575.6 748.5 L1578.6 748.4 L1581.6 748.4 L1584.7 748.4 L1587.7 748.8 L1590.8 748.4 L1593.8 747.9 L1596.8 748.7 L1599.9 748.3 L1602.9 748.3 L1605.9 748.7 L1609.0 748.2 L1612.0 748.2 L1615.0 748.6 L1618.1 748.6 L1621.1 748.1 L1624.2 748.1 L1627.2 748.1 L1630.2 748.5 L1633.3 748.1 L1636.3 748.0 L1639.3 748.0 L1642.4 748.4 L1645.4 747.6 L1648.4 748.4 L1651.5 747.9 L1654.5 748.3 L1657.5 747.9 L1660.6 747.9 L1663.6 747.9 L1666.7 747.4 L1669.7 747.4 L1672.7 747.8 L1675.8 747.4 L1678.8 747.8 L1681.8 747.3 L1684.9 747.7 L1687.9 747.7 L1690.9 747.7 L1694.0 747.3 L1697.0 748.0 L1700.1 747.2 L1703.1 748.0 L1706.1 748.0 L1709.2 747.1 L1712.2 747.5 L1715.2 747.9 L1718.3 747.9 L1721.3 747.1 L1724.3 747.0 L1727.4 747.4 L1730.4 747.8 L1733.5 747.4 L1736.5 747.0 L1739.5 746.9 L1742.6 747.3 L1745.6 747.3 L1748.6 746.9 L1751.6 747.3 L1754.6 746.9 L1757.7 747.3 L1760.7 747.3 L1763.7 746.8 L1766.7 747.6 L1769.7 746.8 L1772.7 747.2 L1775.8 747.2 L1778.8 747.2 L1781.8 747.2 L1784.8 747.2 L1787.8 746.8 L1790.8 747.2 L1793.9 747.6 L1796.9 747.1 L1799.9 747.1 L1802.9 747.5 L1805.9 747.5 L1808.9 747.1 L1811.9 747.1 L1815.0 747.1 L1818.0 747.1 L1821.0 746.7 L1824.0 746.7 L1827.0 747.1 L1830.0 747.4 L1833.1 747.0 L1836.1 747.0 L1839.1 746.6 L1842.1 747.4 L1845.1 747.0 L1848.1 746.6 L1851.2 747.0 L1854.2 747.0 L1857.2 747.0 L1860.2 746.6 L1863.2 746.9 L1866.2 746.5 L1869.2 746.9 L1872.3 746.9 L1875.3 746.9 L1878.3 746.5 L1881.3 746.9 L1884.3 746.5 L1887.3 747.3 L1890.4 746.9 L1893.4 746.9 L1896.4 746.9 L1899.4 746.8 L1902.4 746.8 L1905.4 746.8 L1908.4 747.2 L1911.5 746.8 L1914.5 746.4 L1917.5 746.4 L1920.5 747.2 L1923.5 746.4 L1926.5 747.2 L1929.6 746.8 L1932.6 746.3 L1935.6 746.3 L1938.6 747.1 L1941.6 746.3 L1944.6 746.3 L1947.7 746.7 L1950.7 746.7 L1953.7 746.7 L1956.7 746.3 L1959.7 746.3 L1962.7 746.7 L1965.7 746.2 L1968.8 746.2 L1971.8 746.6 L1974.8 746.2 L1977.8 746.2 L1980.8 746.6 L1983.8 746.6 L1986.9 746.6 L1989.9 747.0 L1992.9 746.2 L1995.9 747.0 L1998.9 746.5 L2001.9 746.1 L2005.0 746.5 L2008.0 746.5 L2011.0 746.5 L2014.0 746.5" fill="none" stroke="#95b6b8" stroke-width="1.7" stroke-linejoin="round"/>
<rect x="83.5" y="956.8" width="1932" height="4.2" fill="#c9c7c4"/>
<rect x="83.5" y="957.6" width="1932" height="2.6" fill="#8f8d8a"/>
<path d="M103.4 958 L105.4 954 L107.4 958" fill="none" stroke="#9a9a9a" stroke-width="1.2"/>
<path d="M137.0 958 L139.0 954 L141.0 958" fill="none" stroke="#9a9a9a" stroke-width="1.2"/>
<path d="M429.4 958 L431.4 954 L433.4 958" fill="none" stroke="#9a9a9a" stroke-width="1.2"/>
<path d="M568.0 958 L570.0 954 L572.0 958" fill="none" stroke="#9a9a9a" stroke-width="1.2"/>
<path d="M2006.0 958 L2008.0 954 L2010.0 958" fill="none" stroke="#9a9a9a" stroke-width="1.2"/>
<path d="M124.3 959 L127.3 852.7 L130.3 959" fill="#c5cbee" stroke="#6b78c8" stroke-width="1.6"/>
<path d="M129.3 959 L127.8 852.7" stroke="#777" stroke-width="1"/>
<path d="M1741.2 959 L1744.2 852.7 L1747.2 959" fill="#c5cbee" stroke="#6b78c8" stroke-width="1.6"/>
<path d="M1746.2 959 L1744.7 852.7" stroke="#777" stroke-width="1"/>
<path d="M2014.8 670 L2014.8 959" stroke="#aaa" stroke-width="2"/>
<path d="M2013.8 747 L2020.2 747 L2019 885 L2015.5 885 Z" fill="#9aa0da"/>
<path d="M2015 747 L2019 885" stroke="#7a82c8" stroke-width="1.4"/>
<circle cx="2016" cy="816" r="2.5" fill="#b03a7a"/>
<circle cx="2016" cy="852.5" r="3" fill="#e56a6a"/>
<path d="M2017 885 L2015 959" stroke="#9a9a9a" stroke-width="2.5"/>
<rect x="84" y="998" width="1936" height="24" fill="#e2f6fd"/>
<defs><linearGradient id="sb" x1="0" y1="0" x2="0" y2="1"><stop offset="0" stop-color="#66aedb"/><stop offset="0.18" stop-color="#5cb6ea"/><stop offset="0.4" stop-color="#38b0f6"/><stop offset="0.75" stop-color="#35acf2"/><stop offset="1" stop-color="#48a4d9"/></linearGradient></defs>
<rect x="84" y="1000.8" width="1936" height="18" fill="url(#sb)"/>
<rect x="84.6" y="998.2" width="27.4" height="24.6" rx="2" fill="#e9e9e9" stroke="#c8c8c8" stroke-width="1.4"/>
<rect x="92.8" y="1005" width="2" height="10.5" fill="#7a7a7a"/>
<rect x="96.8" y="1005" width="2" height="10.5" fill="#7a7a7a"/>
<rect x="100.8" y="1005" width="2" height="10.5" fill="#7a7a7a"/>
<rect x="1993.4" y="998.2" width="26.1" height="24.6" rx="2" fill="#e9e9e9" stroke="#c8c8c8" stroke-width="1.4"/>
<rect x="2001.0" y="1005" width="2" height="10.5" fill="#7a7a7a"/>
<rect x="2005.0" y="1005" width="2" height="10.5" fill="#7a7a7a"/>
<rect x="2009.0" y="1005" width="2" height="10.5" fill="#7a7a7a"/>
<rect x="580.7" y="1040.9" width="22.7" height="5" rx="1.2" fill="#c94fc9"/>
<ellipse cx="592.0" cy="1043.4" rx="5" ry="3.6" fill="#c94fc9"/>
<rect x="670.0" y="1040.9" width="21.5" height="5" rx="1.2" fill="#5fae72"/>
<rect x="791.6" y="1040.9" width="21.4" height="5" rx="1.2" fill="#2e9ea8"/>
<rect x="945.4" y="1040.9" width="21.4" height="5" rx="1.2" fill="#5565c0"/>
<rect x="1081.4" y="1040.9" width="22.6" height="5" rx="1.2" fill="#e48a5e"/>
<rect x="1176.8" y="1040.9" width="21.4" height="5" rx="1.2" fill="#d94a5c"/>
<ellipse cx="1187.5" cy="1043.4" rx="5" ry="3.6" fill="#d94a5c"/>
<rect x="1296.0" y="1040.9" width="22.6" height="5" rx="1.2" fill="#6f92d2"/>
<rect x="1410.3" y="1040.9" width="21.5" height="5" rx="1.2" fill="#72c9ee"/>
<rect x="1847.5" y="1060.3" width="86.5" height="10" fill="#fff" stroke="#d0d0d0" stroke-width="1.2"/>
</svg>
<div class="wm" style="left:239.0px;top:225.5px">PerfDog</div>
<div class="wm" style="left:770.0px;top:225.5px">PerfDog</div>
<div class="wm" style="left:1300.0px;top:225.5px">PerfDog</div>
<div class="wm" style="left:1831.5px;top:225.5px">PerfDog</div>
<div class="wm" style="left:239.0px;top:691.0px">PerfDog</div>
<div class="wm" style="left:770.0px;top:691.0px">PerfDog</div>
<div class="wm" style="left:1300.0px;top:691.0px">PerfDog</div>
<div class="wm" style="left:1831.5px;top:691.0px">PerfDog</div>
<div class="t b" style="left:34.80px;top:30.62px;font-size:27.97px;color:#333;transform:scaleX(0.8272);-webkit-text-stroke:1px #333;">FPS</div>
<div class="t" style="left:59.10px;top:140.62px;font-size:20.29px;color:#6a6a6a;transform:scaleX(0.8699);">Avg(FPS)</div>
<div class="t" style="left:182.00px;top:140.62px;font-size:20.29px;color:#6a6a6a;transform:scaleX(0.9435);">Smooth(<i>稳</i><i>帧</i><i>指</i><i>数</i>)</div>
<div class="t" style="left:402.50px;top:140.62px;font-size:20.29px;color:#6a6a6a;transform:scaleX(0.8902);">1%Low(FPS)</div>
<div class="t" style="left:549.70px;top:140.62px;font-size:20.29px;color:#6a6a6a;transform:scaleX(0.8642);">Std(FPS)</div>
<div class="t" style="left:663.00px;top:140.62px;font-size:20.29px;color:#6a6a6a;transform:scaleX(0.8421);">Var(FPS)</div>
<div class="t" style="left:775.40px;top:140.62px;font-size:20.29px;color:#6a6a6a;transform:scaleX(0.9496);">FPS&gt;=18 [%]</div>
<div class="t" style="left:931.20px;top:140.62px;font-size:20.29px;color:#6a6a6a;transform:scaleX(0.9455);">FPS&gt;=25 [%]</div>
<div class="t" style="left:1086.50px;top:140.62px;font-size:20.29px;color:#6a6a6a;transform:scaleX(0.9512);">Drop(FPS) [/h]</div>
<div class="t" style="left:1276.60px;top:140.62px;font-size:20.29px;color:#6a6a6a;transform:scaleX(0.9012);">Min(FPS)</div>
<div class="t" style="left:1395.80px;top:140.62px;font-size:20.29px;color:#6a6a6a;transform:scaleX(0.9195);">Median(FPS)</div>
<div class="t" style="left:1547.00px;top:140.62px;font-size:20.29px;color:#6a6a6a;transform:scaleX(0.9264);">MedRange(FPS)[%]</div>
<div class="t" style="left:1757.20px;top:116.82px;font-size:20.29px;color:#6a6a6a;transform:scaleX(0.9136);">TinyJank(<i>极</i><i>微</i><i>小</i><i>卡</i><i>顿</i>)</div>
<div class="t" style="left:1808.30px;top:140.62px;font-size:20.29px;color:#6a6a6a;transform:scaleX(1.0079);">(/10min)</div>
<div class="t b" style="left:56.00px;top:185.55px;font-size:34.78px;color:#333333;transform:scaleX(0.9617);">119.7</div>
<div class="t b" style="left:249.00px;top:185.55px;font-size:34.78px;color:#333333;transform:scaleX(0.9577);">0.4</div>
<div class="t b" style="left:424.00px;top:185.55px;font-size:34.78px;color:#333333;transform:scaleX(0.9115);">77.1</div>
<div class="t b" style="left:562.60px;top:185.55px;font-size:34.78px;color:#333333;transform:scaleX(0.9577);">4.8</div>
<div class="t b" style="left:665.60px;top:185.55px;font-size:34.78px;color:#333333;transform:scaleX(0.9632);">22.8</div>
<div class="t b" style="left:805.40px;top:185.55px;font-size:34.78px;color:#333333;transform:scaleX(0.9461);">100</div>
<div class="t b" style="left:961.20px;top:185.55px;font-size:34.78px;color:#333333;transform:scaleX(0.9616);">100</div>
<div class="t b" style="left:1128.50px;top:185.55px;font-size:34.78px;color:#333333;transform:scaleX(0.9632);">13.6</div>
<div class="t b" style="left:1297.20px;top:185.55px;font-size:34.78px;color:#333333;transform:scaleX(0.8427);">31</div>
<div class="t b" style="left:1423.30px;top:185.55px;font-size:34.78px;color:#333333;transform:scaleX(0.9616);">120</div>
<div class="t b" style="left:1598.00px;top:185.55px;font-size:34.78px;color:#333333;transform:scaleX(0.9765);">99.6</div>
<div class="t" style="left:53.70px;top:264.73px;font-size:19.57px;color:#6a6a6a;transform:scaleX(0.9546);">SmallJank(<i>微</i><i>小</i><i>卡</i><i>顿</i>)</div>
<div class="t" style="left:103.50px;top:288.17px;font-size:20.00px;color:#6a6a6a;transform:scaleX(1.0061);">(/10min)</div>
<div class="t" style="left:291.40px;top:264.73px;font-size:19.57px;color:#6a6a6a;transform:scaleX(0.9359);">Jank(<i>卡</i><i>顿</i>)</div>
<div class="t" style="left:298.20px;top:288.17px;font-size:20.00px;color:#6a6a6a;transform:scaleX(1.0184);">(/10min)</div>
<div class="t" style="left:444.00px;top:264.73px;font-size:19.57px;color:#6a6a6a;transform:scaleX(0.9515);">BigJank(<i>严</i><i>重</i><i>卡</i><i>顿</i>)</div>
<div class="t" style="left:483.90px;top:288.17px;font-size:20.00px;color:#6a6a6a;">(/10min)</div>
<div class="t" style="left:662.20px;top:288.17px;font-size:20.00px;color:#6a6a6a;transform:scaleX(0.9622);">Stutter(<i>卡</i><i>顿</i><i>率</i>) [%]</div>
<div class="t" style="left:864.00px;top:288.17px;font-size:20.00px;color:#6a6a6a;transform:scaleX(0.9767);">Avg(InterFrame)</div>
<div class="t" style="left:1047.20px;top:288.17px;font-size:20.00px;color:#6a6a6a;transform:scaleX(0.9543);">Avg(FPS+InterFrame)</div>
<div class="t" style="left:1275.00px;top:288.17px;font-size:20.00px;color:#6a6a6a;transform:scaleX(0.9690);">Avg(FTime) [ms]</div>
<div class="t" style="left:1459.20px;top:288.17px;font-size:20.00px;color:#6a6a6a;transform:scaleX(0.9310);">Std(FTime)</div>
<div class="t" style="left:1593.00px;top:288.17px;font-size:20.00px;color:#6a6a6a;transform:scaleX(0.9307);">Var(FTime)</div>
<div class="t" style="left:1727.10px;top:288.17px;font-size:20.00px;color:#6a6a6a;transform:scaleX(0.9925);">FTime&gt;=100ms [%]</div>
<div class="t b" style="left:131.00px;top:332.00px;font-size:35.07px;color:#333333;transform:scaleX(0.9149);">3.8</div>
<div class="t b" style="left:325.70px;top:332.00px;font-size:35.07px;color:#333333;transform:scaleX(0.8964);">1.5</div>
<div class="t b" style="left:509.00px;top:332.00px;font-size:35.07px;color:#333333;transform:scaleX(0.9703);">0.8</div>
<div class="t b" style="left:733.50px;top:332.00px;font-size:35.07px;color:#333333;transform:scaleX(0.9128);">0</div>
<div class="t b" style="left:926.00px;top:332.00px;font-size:35.07px;color:#333333;transform:scaleX(0.9282);">0</div>
<div class="t b" style="left:1099.30px;top:332.00px;font-size:35.07px;color:#333333;transform:scaleX(0.9571);">119.7</div>
<div class="t b" style="left:1323.00px;top:332.00px;font-size:35.07px;color:#333333;transform:scaleX(0.9662);">8.4</div>
<div class="t b" style="left:1483.20px;top:332.00px;font-size:35.07px;color:#333333;transform:scaleX(0.9251);">1.7</div>
<div class="t b" style="left:1617.00px;top:332.00px;font-size:35.07px;color:#333333;transform:scaleX(0.9456);">2.8</div>
<div class="t b" style="left:1805.20px;top:332.00px;font-size:35.07px;color:#333333;transform:scaleX(0.9231);">0</div>
<div class="t" style="left:55.00px;top:410.44px;font-size:20.14px;color:#6a6a6a;transform:scaleX(0.9828);">Delta(FTime)&gt;100ms [/h]</div>
<div class="t b" style="left:154.40px;top:455.44px;font-size:34.20px;color:#333333;transform:scaleX(0.8876);">9.1</div>
<div class="t b" style="left:32.60px;top:531.75px;font-size:22.03px;color:#2a2a2a;transform:scaleX(0.8123);-webkit-text-stroke:0.7px #2a2a2a;">FPS</div>
<div class="t" style="left:1691.40px;top:530.02px;font-size:20.29px;color:#555;transform:scaleX(0.9208);">FPS(&gt;=)</div>
<div class="t" style="left:1808.50px;top:530.32px;font-size:20.29px;color:#444;transform:scaleX(0.8642);">18</div>
<div class="t" style="left:1906.00px;top:530.32px;font-size:20.29px;color:#444;transform:scaleX(0.8952);">25</div>
<div class="t" style="left:1985.28px;top:534.44px;font-size:17.20px;color:#5068c0;transform:scaleX(1.0417);"><i>重</i><i>置</i></div>
<div class="t b" style="left:1027.00px;top:582.48px;font-size:17.50px;color:#fdf0f2;transform:scaleX(0.9676);">label1</div>
<div class="t" style="left:40.75px;top:659.25px;font-size:18.60px;color:#606060;transform:scaleX(0.9200);-webkit-text-stroke:0.25px #606060;">121</div>
<div class="t" style="left:40.75px;top:687.95px;font-size:18.60px;color:#606060;transform:scaleX(0.9200);-webkit-text-stroke:0.25px #606060;">109</div>
<div class="t" style="left:50.27px;top:718.75px;font-size:18.60px;color:#606060;transform:scaleX(0.9200);-webkit-text-stroke:0.25px #606060;">96</div>
<div class="t" style="left:50.27px;top:747.55px;font-size:18.60px;color:#606060;transform:scaleX(0.9200);-webkit-text-stroke:0.25px #606060;">84</div>
<div class="t" style="left:50.27px;top:776.35px;font-size:18.60px;color:#606060;transform:scaleX(0.9200);-webkit-text-stroke:0.25px #606060;">72</div>
<div class="t" style="left:50.27px;top:805.05px;font-size:18.60px;color:#606060;transform:scaleX(0.9200);-webkit-text-stroke:0.25px #606060;">60</div>
<div class="t" style="left:50.27px;top:833.95px;font-size:18.60px;color:#606060;transform:scaleX(0.9200);-webkit-text-stroke:0.25px #606060;">48</div>
<div class="t" style="left:50.27px;top:862.35px;font-size:18.60px;color:#606060;transform:scaleX(0.9200);-webkit-text-stroke:0.25px #606060;">36</div>
<div class="t" style="left:50.27px;top:891.25px;font-size:18.60px;color:#606060;transform:scaleX(0.9200);-webkit-text-stroke:0.25px #606060;">24</div>
<div class="t" style="left:50.27px;top:919.75px;font-size:18.60px;color:#606060;transform:scaleX(0.9200);-webkit-text-stroke:0.25px #606060;">12</div>
<div class="t" style="left:59.78px;top:948.15px;font-size:18.60px;color:#606060;transform:scaleX(0.9200);-webkit-text-stroke:0.25px #606060;">0</div>
<div class="t" style="left:2036.00px;top:630.15px;font-size:18.60px;color:#606060;transform:scaleX(0.9200);-webkit-text-stroke:0.25px #606060;">3</div>
<div class="t" style="left:2036.00px;top:736.15px;font-size:18.60px;color:#606060;transform:scaleX(0.9200);-webkit-text-stroke:0.25px #606060;">2</div>
<div class="t" style="left:2036.00px;top:841.75px;font-size:18.60px;color:#606060;transform:scaleX(0.9200);-webkit-text-stroke:0.25px #606060;">1</div>
<div class="t" style="left:2036.00px;top:948.65px;font-size:18.60px;color:#606060;transform:scaleX(0.9200);-webkit-text-stroke:0.25px #606060;">0</div>
<div class="t" style="left:85.40px;top:972.57px;font-size:17.40px;color:#666;transform:scaleX(0.9400);-webkit-text-stroke:0.25px #666;">00:00</div>
<div class="t" style="left:166.97px;top:972.57px;font-size:17.40px;color:#666;transform:scaleX(0.9400);-webkit-text-stroke:0.25px #666;">00:42</div>
<div class="t" style="left:269.70px;top:972.57px;font-size:17.40px;color:#666;transform:scaleX(0.9400);-webkit-text-stroke:0.25px #666;">01:24</div>
<div class="t" style="left:372.43px;top:972.57px;font-size:17.40px;color:#666;transform:scaleX(0.9400);-webkit-text-stroke:0.25px #666;">02:06</div>
<div class="t" style="left:475.16px;top:972.57px;font-size:17.40px;color:#666;transform:scaleX(0.9400);-webkit-text-stroke:0.25px #666;">02:48</div>
<div class="t" style="left:577.89px;top:972.57px;font-size:17.40px;color:#666;transform:scaleX(0.9400);-webkit-text-stroke:0.25px #666;">03:30</div>
<div class="t" style="left:680.62px;top:972.57px;font-size:17.40px;color:#666;transform:scaleX(0.9400);-webkit-text-stroke:0.25px #666;">04:12</div>
<div class="t" style="left:783.35px;top:972.57px;font-size:17.40px;color:#666;transform:scaleX(0.9400);-webkit-text-stroke:0.25px #666;">04:54</div>
<div class="t" style="left:886.08px;top:972.57px;font-size:17.40px;color:#666;transform:scaleX(0.9400);-webkit-text-stroke:0.25px #666;">05:36</div>
<div class="t" style="left:988.81px;top:972.57px;font-size:17.40px;color:#666;transform:scaleX(0.9400);-webkit-text-stroke:0.25px #666;">06:18</div>
<div class="t" style="left:1091.54px;top:972.57px;font-size:17.40px;color:#666;transform:scaleX(0.9400);-webkit-text-stroke:0.25px #666;">07:00</div>
<div class="t" style="left:1194.27px;top:972.57px;font-size:17.40px;color:#666;transform:scaleX(0.9400);-webkit-text-stroke:0.25px #666;">07:42</div>
<div class="t" style="left:1297.00px;top:972.57px;font-size:17.40px;color:#666;transform:scaleX(0.9400);-webkit-text-stroke:0.25px #666;">08:24</div>
<div class="t" style="left:1399.73px;top:972.57px;font-size:17.40px;color:#666;transform:scaleX(0.9400);-webkit-text-stroke:0.25px #666;">09:06</div>
<div class="t" style="left:1502.46px;top:972.57px;font-size:17.40px;color:#666;transform:scaleX(0.9400);-webkit-text-stroke:0.25px #666;">09:48</div>
<div class="t" style="left:1605.19px;top:972.57px;font-size:17.40px;color:#666;transform:scaleX(0.9400);-webkit-text-stroke:0.25px #666;">10:30</div>
<div class="t" style="left:1707.92px;top:972.57px;font-size:17.40px;color:#666;transform:scaleX(0.9400);-webkit-text-stroke:0.25px #666;">11:12</div>
<div class="t" style="left:1810.65px;top:972.57px;font-size:17.40px;color:#666;transform:scaleX(0.9400);-webkit-text-stroke:0.25px #666;">11:54</div>
<div class="t" style="left:1913.38px;top:972.57px;font-size:17.40px;color:#666;transform:scaleX(0.9400);-webkit-text-stroke:0.25px #666;">12:36</div>
<div class="t" style="left:5px;top:806px;font-size:16px;font-weight:bold;color:#333;transform:rotate(-90deg);transform-origin:50% 50%;width:32px;text-align:center;line-height:16px">FPS</div>
<div class="t" style="left:2046px;top:774px;font-size:16px;font-weight:bold;color:#333;transform:rotate(90deg);transform-origin:50% 50%;width:38px;text-align:center;line-height:16px">Jank</div>
<div class="t" style="left:616.50px;top:1033.05px;font-size:18.84px;color:#606060;transform:scaleX(0.7150);-webkit-text-stroke:0.3px #606060;">FPS</div>
<div class="t" style="left:705.80px;top:1033.05px;font-size:18.84px;color:#606060;transform:scaleX(0.8995);-webkit-text-stroke:0.3px #606060;">Smooth</div>
<div class="t" style="left:827.40px;top:1033.05px;font-size:18.84px;color:#606060;transform:scaleX(0.8163);-webkit-text-stroke:0.3px #606060;">1%Low(FPS)</div>
<div class="t" style="left:979.90px;top:1033.05px;font-size:18.84px;color:#606060;transform:scaleX(0.8500);-webkit-text-stroke:0.3px #606060;">SmallJank</div>
<div class="t" style="left:1116.00px;top:1033.05px;font-size:18.84px;color:#606060;transform:scaleX(0.8535);-webkit-text-stroke:0.3px #606060;">Jank</div>
<div class="t" style="left:1212.50px;top:1033.05px;font-size:18.84px;color:#606060;transform:scaleX(0.8529);-webkit-text-stroke:0.3px #606060;">BigJank</div>
<div class="t" style="left:1331.70px;top:1033.05px;font-size:18.84px;color:#606060;transform:scaleX(0.9243);-webkit-text-stroke:0.3px #606060;">Stutter</div>
<div class="t" style="left:1444.90px;top:1033.05px;font-size:18.84px;color:#606060;transform:scaleX(0.9052);-webkit-text-stroke:0.3px #606060;">InterFrame</div>
<div class="t" style="left:1917.35px;top:1036.45px;font-size:16.00px;color:#4e66c0;transform:scaleX(1.0167);"><i>全</i><i>隐</i><i>藏</i></div>
</div>
</body></html>
